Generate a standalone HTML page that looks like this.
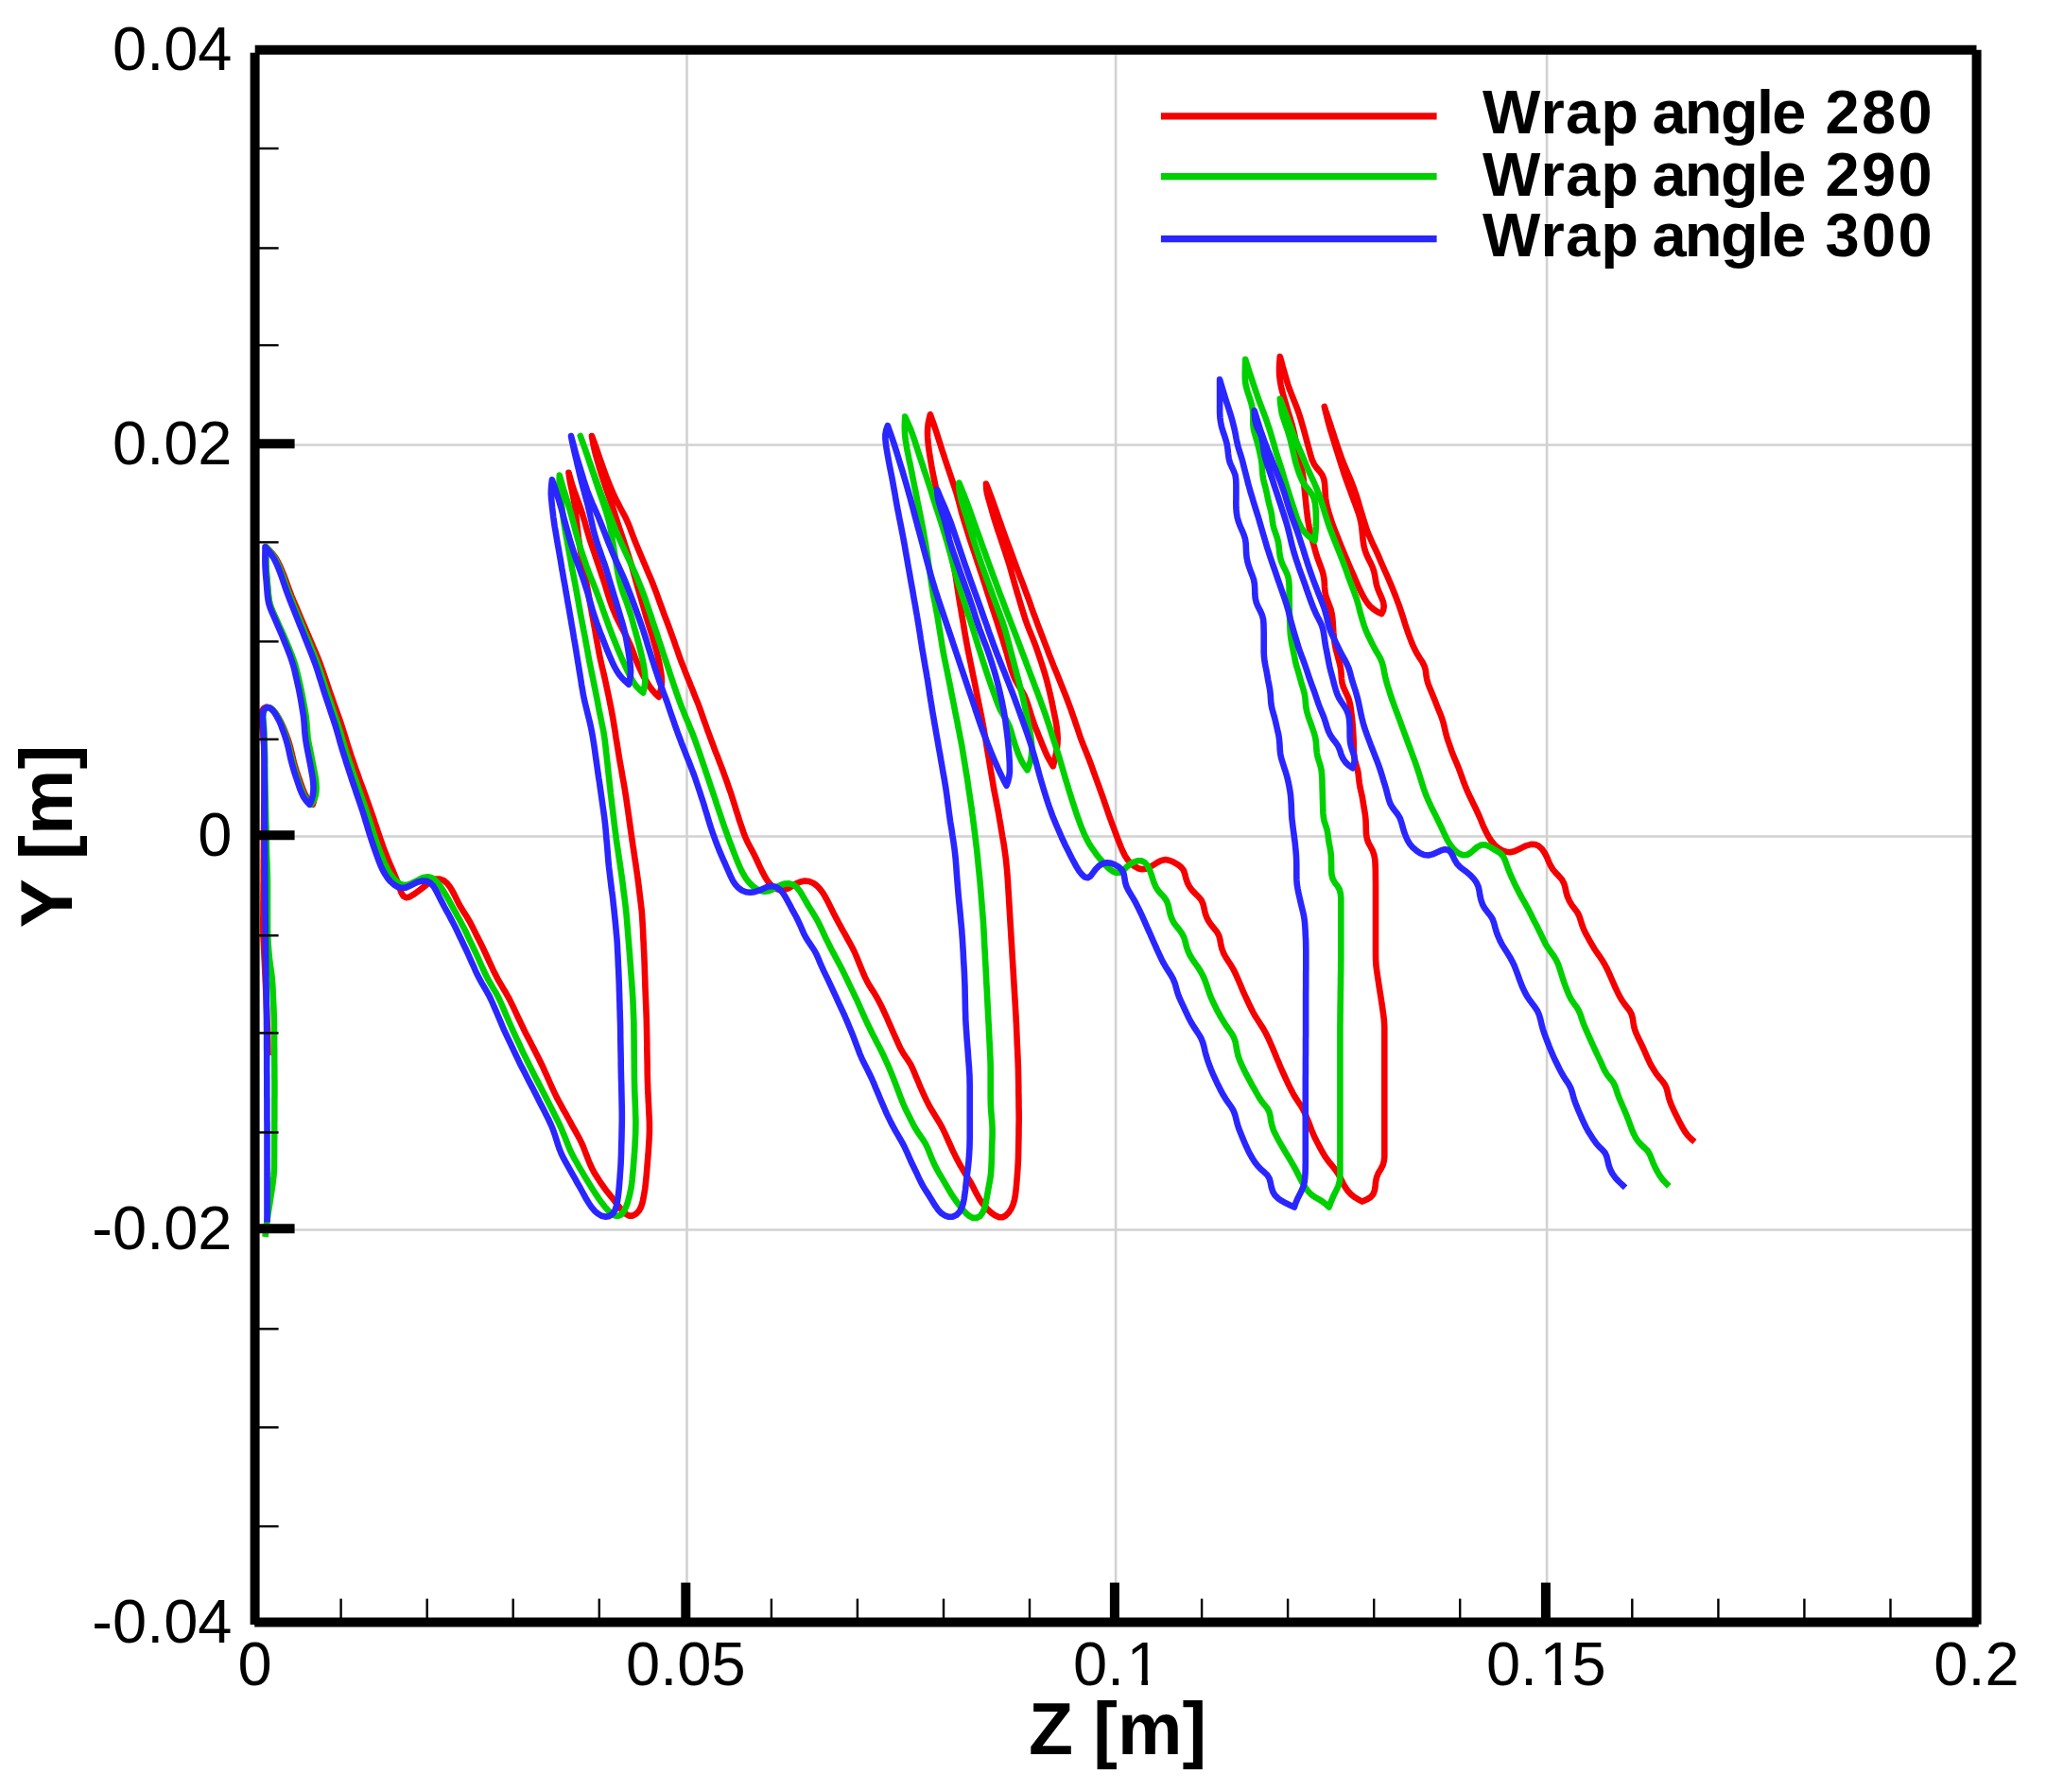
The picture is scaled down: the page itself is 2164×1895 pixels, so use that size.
<!DOCTYPE html>
<html><head><meta charset="utf-8"><title>Wrap angle plot</title>
<style>
html,body{margin:0;padding:0;background:#fff;}
body{width:2164px;height:1895px;overflow:hidden;}
svg{display:block;}
text{font-family:"Liberation Sans",Arial,sans-serif;fill:#000;}
.tl{font-size:65px;}
.ttl{font-size:78px;font-weight:bold;}
.lg{font-size:65px;font-weight:bold;}
</style></head><body>
<svg width="2164" height="1895" viewBox="0 0 2164 1895">
<rect width="2164" height="1895" fill="#fff"/>
<g stroke="#d2d2d2" stroke-width="2.6" fill="none"><line x1="726.5" y1="52.8" x2="726.5" y2="1715.6"/><line x1="1180.1" y1="52.8" x2="1180.1" y2="1715.6"/><line x1="1636.1" y1="52.8" x2="1636.1" y2="1715.6"/><line x1="269.6" y1="470.5" x2="2090.5" y2="470.5"/><line x1="269.6" y1="884.5" x2="2090.5" y2="884.5"/><line x1="269.6" y1="1300.5" x2="2090.5" y2="1300.5"/></g>
<polyline points="283.5,1116.0 283.4,1111.0 283.3,1106.0 283.2,1101.0 283.1,1096.0 283.0,1091.0 282.8,1086.0 282.6,1081.0 282.4,1076.0 282.2,1071.0 282.0,1066.0 281.8,1061.1 281.6,1056.1 281.4,1051.1 281.2,1046.1 281.0,1041.1 280.7,1036.1 280.5,1031.1 280.3,1026.1 280.0,1021.1 279.8,1016.1 279.5,1011.1 279.3,1006.1 279.0,1001.1 278.8,996.2 278.5,991.2 278.4,986.2 278.3,981.2 278.3,976.2 278.3,971.2 278.4,966.2 278.4,961.2 278.4,956.2 278.5,951.2 278.5,946.2 278.6,941.2 278.6,936.2 278.7,931.2 278.7,926.2 278.7,921.2 278.8,916.2 278.8,911.2 278.9,906.2 278.9,901.2 279.0,896.2 279.0,891.2 279.0,886.2 279.1,881.2 279.1,876.2 279.2,871.2 279.2,866.2 279.3,861.2 279.3,856.2 279.3,851.2 279.4,846.2 279.4,841.2 279.5,836.2 279.5,831.2 279.5,826.2 279.6,821.2 279.6,816.2 279.7,811.2 279.8,806.3 279.8,801.3 279.8,796.3 279.6,791.3 279.2,786.3 278.7,781.3 278.1,776.4 277.6,771.4 277.0,766.5 276.4,761.5 276.2,756.7 276.9,752.3 279.0,749.0 282.2,747.6 285.7,748.6 289.0,751.3 292.0,755.1 294.7,759.3 297.1,763.6 299.2,768.1 301.1,772.7 302.9,777.4 304.6,782.1 306.1,786.8 307.4,791.7 308.6,796.5 309.7,801.4 310.9,806.2 312.2,811.0 313.7,815.8 315.3,820.5 317.0,825.2 318.6,830.0 320.3,834.6 322.3,839.2 324.5,843.5 327.4,847.4 330.8,850.8 332.2,846.0 333.1,841.2 333.5,836.2 333.5,831.3 333.2,826.3 332.5,821.3 331.6,816.4 330.7,811.5 329.7,806.6 328.8,801.6 327.8,796.7 326.8,791.8 325.9,786.9 325.0,782.0 324.4,777.0 324.0,772.0 323.7,767.0 323.3,762.0 322.7,757.0 321.9,752.1 321.1,747.2 320.2,742.2 319.3,737.3 318.3,732.4 317.3,727.5 316.2,722.6 315.1,717.7 314.0,712.8 312.8,707.9 311.5,703.1 310.0,698.3 308.3,693.6 306.4,689.0 304.6,684.3 302.7,679.7 300.8,675.0 298.8,670.4 296.8,665.8 294.7,661.3 292.7,656.7 290.6,652.1 288.6,647.5 286.7,642.9 285.2,638.2 284.2,633.4 283.6,628.4 283.2,623.4 282.8,618.4 282.4,613.4 281.9,608.5 281.5,603.5 281.2,598.5 281.1,593.5 281.2,588.4 281.2,583.4 281.3,578.4 284.8,581.9 288.2,585.5 291.2,589.4 293.7,593.6 295.9,598.1 297.9,602.7 299.8,607.3 301.6,612.0 303.3,616.7 305.0,621.4 306.7,626.0 308.5,630.7 310.4,635.3 312.4,639.9 314.4,644.5 316.3,649.1 318.3,653.7 320.2,658.3 322.2,662.9 324.2,667.5 326.1,672.1 328.1,676.7 330.1,681.3 332.0,685.9 334.0,690.4 335.9,695.1 337.8,699.7 339.5,704.4 341.2,709.1 342.8,713.8 344.4,718.5 346.0,723.3 347.6,728.0 349.2,732.7 350.9,737.4 352.5,742.2 354.2,746.9 355.9,751.6 357.6,756.3 359.3,761.0 360.9,765.7 362.4,770.4 363.9,775.2 365.4,780.0 366.8,784.8 368.3,789.5 369.9,794.3 371.4,799.0 373.1,803.8 374.7,808.5 376.3,813.2 378.0,817.9 379.6,822.6 381.3,827.3 383.1,832.0 384.8,836.7 386.5,841.4 388.2,846.1 389.9,850.8 391.6,855.5 393.2,860.2 394.9,864.9 396.4,869.7 398.0,874.4 399.6,879.2 401.2,883.9 402.8,888.6 404.5,893.3 406.2,898.0 408.0,902.7 409.8,907.3 411.7,911.9 413.7,916.5 415.7,921.1 417.6,925.7 419.5,930.3 421.3,935.0 422.9,939.7 424.5,944.1 426.6,947.6 429.5,949.2 433.1,948.5 437.0,946.2 441.0,943.4 445.0,940.4 448.9,937.3 452.7,934.2 456.7,931.4 460.8,929.6 465.1,929.5 469.2,931.0 472.8,934.0 475.8,937.8 478.4,942.0 480.7,946.4 482.9,950.9 485.1,955.3 487.5,959.6 490.2,963.9 492.9,968.1 495.4,972.3 497.9,976.7 500.2,981.1 502.4,985.6 504.6,990.1 506.9,994.5 509.1,999.0 511.3,1003.5 513.4,1008.0 515.5,1012.5 517.6,1017.1 519.7,1021.6 521.8,1026.2 524.0,1030.6 526.3,1035.1 528.8,1039.4 531.3,1043.7 533.9,1047.9 536.4,1052.3 538.8,1056.6 541.0,1061.1 543.2,1065.6 545.3,1070.1 547.4,1074.7 549.6,1079.2 551.7,1083.7 553.9,1088.2 556.1,1092.7 558.4,1097.1 560.7,1101.6 563.0,1106.0 565.3,1110.4 567.5,1114.9 569.8,1119.3 572.0,1123.8 574.2,1128.3 576.2,1132.9 578.3,1137.4 580.3,1142.0 582.3,1146.5 584.4,1151.1 586.5,1155.6 588.7,1160.1 591.0,1164.5 593.4,1168.9 595.8,1173.3 598.3,1177.7 600.7,1182.0 603.1,1186.4 605.5,1190.8 608.0,1195.1 610.4,1199.5 612.8,1203.9 615.0,1208.4 617.0,1212.9 618.8,1217.6 620.6,1222.2 622.4,1226.9 624.3,1231.5 626.4,1236.0 628.7,1240.4 631.4,1244.6 634.1,1248.8 636.9,1252.9 639.8,1257.0 642.8,1260.9 646.0,1264.8 649.1,1268.7 652.1,1272.7 655.2,1276.6 658.3,1280.4 661.7,1283.7 665.3,1285.6 669.1,1285.6 672.7,1283.7 675.8,1280.5 678.0,1276.4 679.5,1271.8 680.5,1267.0 681.4,1262.1 682.2,1257.2 682.8,1252.2 683.3,1247.2 683.8,1242.3 684.2,1237.3 684.6,1232.3 685.0,1227.3 685.4,1222.3 685.8,1217.4 686.1,1212.4 686.4,1207.4 686.7,1202.4 686.9,1197.4 686.9,1192.4 686.9,1187.4 686.7,1182.4 686.4,1177.5 686.2,1172.5 686.0,1167.5 685.7,1162.5 685.5,1157.5 685.2,1152.5 685.1,1147.5 684.9,1142.5 684.8,1137.5 684.7,1132.5 684.7,1127.5 684.6,1122.5 684.5,1117.5 684.4,1112.5 684.3,1107.5 684.3,1102.6 684.2,1097.6 684.1,1092.6 684.0,1087.6 683.9,1082.6 683.8,1077.6 683.6,1072.6 683.4,1067.6 683.2,1062.6 683.0,1057.6 682.8,1052.6 682.6,1047.6 682.4,1042.6 682.3,1037.6 682.1,1032.6 681.9,1027.6 681.8,1022.7 681.6,1017.7 681.4,1012.7 681.2,1007.7 680.9,1002.7 680.7,997.7 680.4,992.7 680.2,987.7 680.0,982.7 679.7,977.7 679.4,972.7 679.1,967.8 678.7,962.8 678.1,957.8 677.5,952.9 676.9,947.9 676.3,943.0 675.7,938.0 675.1,933.0 674.4,928.1 673.7,923.1 673.0,918.2 672.3,913.3 671.5,908.3 670.8,903.4 670.1,898.4 669.3,893.5 668.6,888.5 667.9,883.6 667.2,878.7 666.5,873.7 665.8,868.8 665.1,863.8 664.4,858.9 663.7,853.9 663.0,849.0 662.3,844.0 661.5,839.1 660.7,834.1 659.9,829.2 659.0,824.3 658.1,819.4 657.3,814.5 656.4,809.6 655.5,804.6 654.7,799.7 653.9,794.8 653.1,789.8 652.3,784.9 651.5,780.0 650.8,775.0 650.0,770.1 649.2,765.2 648.4,760.2 647.5,755.3 646.6,750.4 645.6,745.5 644.6,740.6 643.6,735.7 642.6,730.8 641.5,725.9 640.5,721.1 639.4,716.2 638.3,711.3 637.1,706.5 636.0,701.6 634.9,696.7 633.9,691.8 633.0,686.9 632.1,682.0 631.2,677.1 630.3,672.2 629.5,667.2 628.6,662.3 627.7,657.4 626.8,652.5 625.9,647.6 625.0,642.7 624.1,637.8 623.2,632.8 622.4,627.9 621.5,623.0 620.6,618.1 619.7,613.2 618.8,608.2 617.9,603.3 617.0,598.4 616.1,593.5 615.1,588.6 614.2,583.7 613.4,578.8 612.6,573.8 611.9,568.9 611.3,563.9 610.7,559.0 610.2,554.0 609.6,549.0 609.1,544.1 608.5,539.1 607.8,534.2 607.0,529.2 606.1,524.3 605.1,519.4 604.0,514.6 603.0,509.7 602.2,504.8 601.5,499.8 602.9,504.7 604.2,509.6 605.7,514.4 607.3,519.1 609.1,523.9 610.8,528.6 612.6,533.4 614.2,538.1 615.8,542.9 617.2,547.8 618.7,552.6 620.0,557.5 621.4,562.3 622.8,567.2 624.3,572.0 625.9,576.8 627.5,581.5 629.2,586.3 630.8,591.1 632.4,595.9 634.0,600.7 635.6,605.5 637.2,610.2 638.8,615.0 640.3,619.8 641.8,624.7 643.3,629.5 644.8,634.3 646.5,639.1 648.2,643.8 650.2,648.5 652.2,653.1 654.4,657.6 656.7,662.1 659.1,666.6 661.4,671.0 663.6,675.5 665.8,680.1 667.8,684.7 669.6,689.4 671.3,694.2 673.1,698.9 675.1,703.5 677.2,708.1 679.4,712.6 681.8,717.1 684.3,721.5 686.9,725.7 689.9,729.8 693.2,733.5 696.8,736.9 698.2,732.1 699.3,727.2 699.9,722.3 699.8,717.3 699.3,712.3 698.5,707.3 697.6,702.4 696.5,697.5 695.4,692.6 694.2,687.7 692.8,682.8 691.4,678.0 690.0,673.2 688.5,668.3 687.0,663.5 685.5,658.7 684.0,653.9 682.6,649.1 681.2,644.2 679.8,639.4 678.4,634.6 677.0,629.7 675.6,624.9 674.2,620.0 672.8,615.2 671.5,610.3 670.1,605.5 668.7,600.6 667.3,595.8 665.8,591.0 664.3,586.2 662.7,581.4 661.1,576.6 659.6,571.8 658.0,567.0 656.4,562.2 654.8,557.5 653.2,552.7 651.7,547.9 650.1,543.1 648.6,538.3 647.0,533.5 645.3,528.7 643.7,524.0 642.0,519.2 640.4,514.4 638.8,509.7 637.3,504.9 635.7,500.1 634.2,495.3 632.8,490.4 631.4,485.6 630.0,480.7 628.8,475.9 627.7,470.9 626.8,466.0 626.0,461.0 627.7,465.7 629.4,470.4 631.1,475.1 632.7,479.8 634.3,484.6 636.0,489.3 637.6,494.0 639.3,498.7 641.0,503.4 642.8,508.0 644.7,512.7 646.6,517.3 648.6,521.9 650.7,526.4 652.9,530.9 655.2,535.3 657.5,539.7 659.9,544.1 662.2,548.6 664.2,553.1 666.1,557.7 667.8,562.4 669.6,567.1 671.4,571.7 673.3,576.4 675.2,581.0 677.1,585.6 679.1,590.2 681.0,594.8 683.0,599.4 684.9,604.0 686.9,608.6 688.9,613.2 690.7,617.8 692.5,622.5 694.3,627.1 696.0,631.8 697.6,636.5 699.4,641.2 701.1,645.9 702.8,650.6 704.6,655.3 706.4,660.0 708.1,664.6 709.8,669.3 711.5,674.0 713.2,678.7 714.8,683.5 716.5,688.2 718.1,692.9 719.8,697.6 721.6,702.3 723.4,706.9 725.2,711.6 727.1,716.2 729.0,720.8 730.8,725.5 732.7,730.1 734.5,734.8 736.4,739.4 738.3,744.0 740.0,748.7 741.7,753.4 743.3,758.1 745.0,762.8 746.7,767.5 748.3,772.2 750.1,776.9 751.8,781.6 753.6,786.3 755.3,791.0 757.1,795.6 759.0,800.3 760.7,804.9 762.5,809.6 764.3,814.3 766.0,819.0 767.7,823.7 769.4,828.4 771.0,833.1 772.7,837.8 774.2,842.6 775.7,847.3 777.2,852.1 778.7,856.9 780.2,861.6 781.7,866.4 783.3,871.2 784.9,875.9 786.5,880.6 788.3,885.2 790.3,889.8 792.6,894.2 795.0,898.6 797.3,903.0 799.5,907.5 801.6,912.0 803.7,916.6 805.9,921.1 808.2,925.5 810.7,929.8 813.5,933.8 816.8,937.3 820.7,939.8 824.9,941.0 829.4,940.8 833.8,939.3 838.0,936.9 842.2,934.4 846.6,932.5 851.1,931.6 855.7,932.0 860.0,933.7 863.9,936.5 867.2,940.0 870.2,943.9 872.7,948.2 875.1,952.6 877.3,957.0 879.6,961.5 881.8,966.0 884.1,970.4 886.4,974.8 888.8,979.2 891.2,983.6 893.7,987.9 896.1,992.3 898.5,996.7 900.9,1001.0 903.2,1005.5 905.2,1010.0 907.1,1014.6 909.0,1019.3 910.9,1023.9 912.8,1028.5 914.8,1033.1 917.0,1037.6 919.4,1041.9 922.1,1046.1 924.8,1050.3 927.3,1054.6 929.7,1058.9 932.0,1063.4 934.1,1067.9 936.2,1072.4 938.3,1077.0 940.3,1081.6 942.3,1086.1 944.3,1090.7 946.3,1095.3 948.4,1099.9 950.4,1104.4 952.5,1108.9 955.0,1113.2 957.7,1117.4 960.5,1121.4 963.1,1125.6 965.3,1130.0 967.2,1134.6 969.1,1139.2 971.1,1143.8 973.0,1148.4 975.0,1153.0 977.1,1157.6 979.2,1162.1 981.4,1166.6 983.7,1171.0 986.3,1175.3 988.9,1179.5 991.5,1183.8 994.1,1188.0 996.5,1192.4 998.7,1196.9 1000.8,1201.4 1002.8,1206.0 1004.9,1210.5 1006.9,1215.1 1009.1,1219.6 1011.3,1224.1 1013.6,1228.5 1016.0,1232.9 1018.5,1237.2 1021.1,1241.5 1023.8,1245.7 1026.4,1249.9 1028.8,1254.3 1031.0,1258.7 1033.3,1263.2 1035.7,1267.5 1038.4,1271.7 1041.5,1275.6 1044.9,1279.2 1048.5,1282.5 1052.4,1285.3 1056.4,1287.1 1060.3,1287.2 1064.0,1285.3 1067.1,1282.0 1069.7,1278.0 1071.6,1273.5 1073.0,1268.7 1073.9,1263.9 1074.5,1258.9 1075.0,1254.0 1075.4,1249.0 1075.8,1244.0 1076.2,1239.0 1076.5,1234.0 1076.8,1229.0 1077.0,1224.0 1077.1,1219.1 1077.2,1214.1 1077.3,1209.1 1077.4,1204.1 1077.5,1199.1 1077.5,1194.1 1077.6,1189.1 1077.7,1184.1 1077.7,1179.1 1077.6,1174.1 1077.5,1169.1 1077.5,1164.1 1077.4,1159.1 1077.3,1154.1 1077.3,1149.1 1077.2,1144.1 1077.1,1139.1 1077.0,1134.1 1076.9,1129.1 1076.7,1124.1 1076.5,1119.1 1076.3,1114.2 1076.1,1109.2 1075.8,1104.2 1075.6,1099.2 1075.4,1094.2 1075.2,1089.2 1075.0,1084.2 1074.7,1079.2 1074.5,1074.2 1074.2,1069.2 1073.9,1064.2 1073.6,1059.3 1073.3,1054.3 1073.0,1049.3 1072.7,1044.3 1072.4,1039.3 1072.1,1034.3 1071.8,1029.3 1071.5,1024.3 1071.2,1019.4 1070.9,1014.4 1070.6,1009.4 1070.3,1004.4 1070.0,999.4 1069.7,994.4 1069.4,989.4 1069.1,984.4 1068.8,979.5 1068.5,974.5 1068.2,969.5 1067.9,964.5 1067.6,959.5 1067.3,954.5 1067.0,949.5 1066.7,944.5 1066.4,939.6 1066.1,934.6 1065.8,929.6 1065.4,924.6 1065.0,919.6 1064.5,914.6 1064.0,909.7 1063.4,904.7 1062.7,899.8 1062.0,894.8 1061.2,889.9 1060.3,885.0 1059.5,880.0 1058.7,875.1 1057.9,870.2 1057.0,865.3 1056.2,860.3 1055.3,855.4 1054.3,850.5 1053.4,845.6 1052.4,840.7 1051.5,835.8 1050.6,830.9 1049.8,826.0 1049.0,821.0 1048.1,816.1 1047.3,811.2 1046.5,806.3 1045.7,801.3 1044.8,796.4 1044.0,791.5 1043.2,786.5 1042.4,781.6 1041.5,776.7 1040.7,771.8 1039.8,766.8 1038.8,761.9 1037.9,757.0 1036.9,752.1 1035.9,747.2 1034.9,742.3 1033.9,737.4 1032.9,732.5 1032.0,727.6 1031.0,722.7 1030.0,717.9 1029.0,713.0 1028.0,708.1 1027.0,703.2 1026.0,698.3 1025.0,693.4 1024.0,688.5 1023.1,683.6 1022.1,678.7 1021.3,673.7 1020.4,668.8 1019.6,663.9 1018.8,659.0 1017.9,654.0 1017.1,649.1 1016.3,644.2 1015.4,639.2 1014.6,634.3 1013.8,629.4 1013.1,624.5 1012.3,619.5 1011.6,614.6 1010.8,609.6 1010.0,604.7 1009.1,599.8 1008.2,594.9 1007.2,590.0 1006.2,585.1 1005.1,580.2 1003.9,575.4 1002.7,570.5 1001.4,565.7 1000.0,560.9 998.7,556.1 997.5,551.2 996.4,546.4 995.4,541.5 994.3,536.6 993.3,531.7 992.2,526.8 991.2,521.9 990.1,517.0 989.1,512.2 988.1,507.3 987.1,502.4 986.1,497.5 985.2,492.6 984.4,487.6 983.6,482.7 982.8,477.8 982.1,472.8 981.6,467.9 981.2,462.9 981.0,457.9 981.2,453.0 981.7,448.0 982.7,443.2 983.9,438.3 985.6,443.0 987.3,447.7 988.9,452.5 990.5,457.2 992.0,462.0 993.5,466.8 995.0,471.5 996.5,476.3 998.1,481.0 999.6,485.8 1001.2,490.5 1002.8,495.3 1004.4,500.0 1006.0,504.8 1007.6,509.5 1009.2,514.2 1010.8,519.0 1012.3,523.8 1013.6,528.6 1014.9,533.4 1016.1,538.2 1017.4,543.1 1018.8,547.9 1020.3,552.7 1021.8,557.4 1023.3,562.2 1024.8,567.0 1026.3,571.7 1027.9,576.5 1029.5,581.2 1031.1,586.0 1032.7,590.7 1034.2,595.5 1035.8,600.2 1037.4,605.0 1039.0,609.7 1040.5,614.5 1042.1,619.2 1043.6,624.0 1045.1,628.7 1046.7,633.5 1048.2,638.3 1049.7,643.0 1051.3,647.8 1052.8,652.5 1054.4,657.3 1055.9,662.1 1057.4,666.8 1059.0,671.6 1060.5,676.3 1061.9,681.1 1063.4,685.9 1064.8,690.7 1066.1,695.5 1067.5,700.4 1068.8,705.2 1070.3,709.9 1072.0,714.6 1074.0,719.2 1076.4,723.5 1079.0,727.8 1081.6,732.0 1083.9,736.4 1085.8,741.0 1087.4,745.7 1088.9,750.4 1090.3,755.2 1091.9,760.0 1093.5,764.7 1095.2,769.4 1097.1,774.1 1098.9,778.7 1100.8,783.3 1102.7,788.0 1104.6,792.6 1106.6,797.2 1108.8,801.7 1111.2,806.0 1113.8,810.3 1115.0,805.4 1116.2,800.6 1117.2,795.6 1118.0,790.7 1118.5,785.7 1118.7,780.8 1118.4,775.8 1117.9,770.8 1117.2,765.8 1116.3,760.9 1115.3,756.0 1114.3,751.1 1113.3,746.1 1112.3,741.2 1111.2,736.3 1110.1,731.4 1108.9,726.5 1107.7,721.7 1106.4,716.8 1105.0,712.0 1103.5,707.2 1102.0,702.4 1100.4,697.7 1098.8,692.9 1097.2,688.2 1095.5,683.4 1093.7,678.7 1091.9,674.1 1090.0,669.4 1088.1,664.8 1086.3,660.1 1084.6,655.4 1083.1,650.6 1081.6,645.8 1080.1,641.0 1078.7,636.2 1077.3,631.4 1075.8,626.6 1074.4,621.7 1073.0,616.9 1071.7,612.1 1070.3,607.2 1069.0,602.4 1067.6,597.6 1066.1,592.8 1064.5,588.0 1063.0,583.3 1061.4,578.5 1059.8,573.7 1058.2,569.0 1056.6,564.2 1055.0,559.4 1053.5,554.7 1052.0,549.9 1050.5,545.1 1049.1,540.2 1047.8,535.4 1046.4,530.6 1045.0,525.8 1043.8,521.0 1043.2,516.3 1043.0,511.6 1044.8,516.3 1046.6,521.0 1048.4,525.6 1050.1,530.3 1051.8,535.0 1053.5,539.8 1055.1,544.5 1056.7,549.2 1058.4,553.9 1060.0,558.7 1061.7,563.4 1063.4,568.1 1065.1,572.8 1066.9,577.4 1068.7,582.1 1070.4,586.8 1072.1,591.5 1073.8,596.2 1075.5,600.9 1077.3,605.6 1079.0,610.3 1080.9,614.9 1082.7,619.6 1084.4,624.3 1086.2,629.0 1087.9,633.7 1089.6,638.4 1091.2,643.1 1092.9,647.8 1094.7,652.5 1096.4,657.2 1098.1,661.9 1099.9,666.5 1101.7,671.2 1103.5,675.9 1105.3,680.6 1107.1,685.2 1108.8,689.9 1110.6,694.6 1112.5,699.2 1114.3,703.9 1116.2,708.5 1118.1,713.1 1120.0,717.8 1121.9,722.4 1123.7,727.0 1125.6,731.7 1127.4,736.3 1129.2,741.0 1130.9,745.7 1132.7,750.4 1134.3,755.1 1136.0,759.8 1137.6,764.6 1139.2,769.3 1140.8,774.0 1142.4,778.8 1144.1,783.5 1145.9,788.1 1147.8,792.8 1149.7,797.4 1151.5,802.0 1153.3,806.7 1155.0,811.4 1156.7,816.1 1158.4,820.8 1160.1,825.5 1161.8,830.2 1163.5,834.9 1165.2,839.6 1166.9,844.4 1168.5,849.1 1170.1,853.8 1171.7,858.5 1173.4,863.3 1175.1,868.0 1176.8,872.7 1178.6,877.4 1180.3,882.0 1182.1,886.7 1183.9,891.4 1185.7,896.0 1187.7,900.6 1189.9,905.0 1192.6,909.1 1195.9,912.8 1199.6,915.9 1203.7,918.2 1207.8,919.3 1212.0,918.8 1216.1,917.0 1220.2,914.5 1224.2,912.0 1228.4,909.9 1232.8,909.1 1237.2,909.9 1241.5,911.8 1245.6,914.1 1249.1,916.8 1251.7,920.0 1253.2,924.1 1254.3,928.7 1255.9,933.4 1258.1,937.7 1261.0,941.6 1264.4,945.1 1267.9,948.5 1270.7,952.0 1272.5,956.1 1273.6,960.7 1274.6,965.4 1276.2,970.0 1278.5,974.4 1281.3,978.4 1284.4,982.1 1287.3,985.7 1289.4,989.7 1290.5,994.1 1291.3,998.9 1292.5,1003.6 1294.2,1008.2 1296.6,1012.5 1299.3,1016.7 1302.0,1020.8 1304.5,1025.1 1306.7,1029.5 1308.8,1034.1 1310.8,1038.7 1312.7,1043.3 1314.6,1047.9 1316.7,1052.5 1318.8,1057.0 1320.9,1061.5 1323.1,1066.0 1325.4,1070.5 1327.8,1074.8 1330.5,1079.0 1333.2,1083.2 1335.9,1087.4 1338.4,1091.8 1340.6,1096.2 1342.7,1100.7 1344.7,1105.3 1346.7,1109.9 1348.6,1114.5 1350.5,1119.2 1352.5,1123.8 1354.4,1128.4 1356.4,1133.0 1358.5,1137.5 1360.6,1142.1 1362.7,1146.6 1364.9,1151.1 1367.2,1155.5 1369.6,1159.8 1372.3,1164.0 1375.1,1168.1 1377.7,1172.2 1379.9,1176.6 1381.8,1181.2 1383.7,1185.8 1385.5,1190.5 1387.3,1195.2 1389.2,1199.8 1391.3,1204.3 1393.6,1208.7 1395.9,1213.1 1398.3,1217.5 1400.8,1221.8 1403.6,1226.0 1406.6,1229.9 1409.8,1233.7 1412.9,1237.6 1415.6,1241.7 1417.9,1246.1 1420.1,1250.5 1422.5,1254.9 1425.2,1259.0 1428.5,1262.6 1432.3,1265.7 1436.5,1268.3 1440.9,1270.6 1445.4,1268.6 1449.4,1266.2 1452.3,1263.0 1453.9,1258.9 1454.6,1254.2 1455.1,1249.4 1456.1,1244.7 1458.0,1240.3 1460.5,1236.3 1462.6,1232.1 1463.8,1227.6 1464.3,1222.8 1464.3,1217.8 1464.3,1212.8 1464.3,1207.8 1464.3,1202.8 1464.3,1197.8 1464.3,1192.8 1464.3,1187.9 1464.3,1182.9 1464.3,1177.9 1464.3,1172.9 1464.3,1167.9 1464.3,1162.9 1464.3,1157.9 1464.3,1152.9 1464.3,1147.9 1464.3,1142.9 1464.3,1137.9 1464.3,1132.9 1464.3,1127.9 1464.3,1123.0 1464.3,1118.0 1464.3,1113.0 1464.3,1108.0 1464.3,1103.0 1464.3,1098.0 1464.3,1093.0 1464.3,1088.0 1464.1,1083.0 1463.8,1078.1 1463.2,1073.1 1462.5,1068.2 1461.8,1063.2 1461.0,1058.3 1460.3,1053.4 1459.5,1048.4 1458.7,1043.5 1458.0,1038.6 1457.2,1033.6 1456.5,1028.7 1455.8,1023.8 1455.3,1018.8 1455.1,1013.8 1455.0,1008.8 1455.0,1003.8 1455.0,998.9 1455.0,993.9 1455.0,988.9 1455.0,983.9 1455.0,978.9 1455.0,973.9 1455.0,968.9 1455.0,963.9 1455.0,958.9 1455.0,953.9 1455.0,948.9 1455.0,943.9 1455.0,938.9 1455.0,934.0 1454.9,929.0 1454.9,924.0 1454.8,919.0 1454.6,914.0 1454.3,909.1 1453.4,904.3 1451.9,899.8 1449.7,895.5 1447.4,891.3 1445.8,886.8 1445.0,882.1 1444.8,877.1 1444.7,872.2 1444.5,867.2 1444.0,862.3 1443.2,857.4 1442.4,852.5 1441.6,847.6 1440.8,842.8 1439.7,837.9 1438.6,833.1 1437.8,828.2 1437.2,823.3 1436.7,818.4 1435.8,813.6 1434.4,808.9 1433.1,804.2 1432.2,799.4 1431.9,794.5 1431.8,789.6 1431.7,784.6 1431.5,779.6 1431.2,774.6 1430.9,769.6 1430.5,764.7 1430.0,759.7 1429.4,754.7 1428.8,749.8 1428.0,744.9 1426.8,740.1 1425.0,735.6 1422.9,731.1 1420.9,726.7 1419.5,722.1 1418.9,717.3 1418.6,712.3 1418.1,707.4 1417.2,702.6 1415.9,697.8 1414.6,693.0 1413.3,688.2 1412.2,683.3 1411.4,678.4 1410.8,673.5 1410.3,668.5 1410.0,663.5 1409.7,658.5 1409.3,653.6 1408.6,648.7 1407.4,643.9 1405.7,639.3 1403.9,634.7 1402.3,630.1 1401.4,625.4 1401.0,620.5 1400.8,615.5 1400.2,610.6 1399.2,605.8 1397.6,601.1 1395.9,596.5 1394.1,591.8 1392.5,587.1 1391.1,582.3 1389.8,577.5 1388.4,572.7 1387.1,567.9 1385.9,563.0 1384.8,558.2 1383.9,553.3 1383.1,548.3 1382.5,543.4 1381.9,538.4 1381.4,533.5 1380.9,528.5 1380.4,523.5 1379.9,518.6 1379.4,513.6 1378.9,508.6 1378.2,503.7 1377.3,498.8 1376.3,493.9 1375.3,489.0 1374.2,484.1 1373.2,479.3 1372.1,474.4 1371.1,469.5 1370.1,464.6 1369.2,459.7 1368.0,454.8 1366.8,450.0 1365.4,445.2 1364.0,440.4 1362.5,435.7 1361.1,430.9 1359.7,426.1 1358.2,421.3 1356.9,416.5 1355.6,411.7 1354.6,406.8 1353.8,401.9 1353.2,397.0 1353.0,392.0 1353.1,387.1 1353.4,382.1 1353.8,377.1 1355.2,381.9 1356.5,386.8 1357.9,391.6 1359.2,396.4 1360.6,401.2 1362.0,406.0 1363.6,410.7 1365.4,415.4 1367.2,420.0 1369.1,424.7 1370.9,429.3 1372.7,434.0 1374.3,438.7 1375.8,443.5 1377.2,448.3 1378.6,453.1 1379.9,457.9 1381.2,462.7 1382.5,467.6 1383.8,472.4 1385.1,477.2 1386.4,482.0 1387.9,486.7 1390.0,491.1 1392.8,495.0 1395.9,498.6 1398.6,502.4 1400.3,506.7 1401.1,511.4 1401.4,516.4 1401.7,521.4 1402.1,526.3 1402.7,531.3 1403.8,536.1 1405.1,540.9 1406.6,545.7 1408.1,550.4 1409.7,555.2 1411.5,559.9 1413.3,564.5 1415.2,569.2 1417.0,573.8 1418.9,578.4 1420.8,583.1 1422.7,587.7 1424.7,592.3 1426.6,596.9 1428.6,601.5 1430.6,606.1 1432.6,610.6 1434.6,615.2 1436.6,619.8 1438.7,624.3 1440.9,628.8 1443.3,633.2 1446.0,637.3 1449.2,641.1 1452.8,644.3 1456.9,647.0 1461.2,649.1 1463.1,645.2 1463.7,641.1 1463.0,636.6 1461.3,632.1 1459.3,627.7 1457.4,623.1 1455.9,618.5 1455.0,613.7 1454.2,608.9 1453.2,604.1 1451.6,599.5 1449.6,595.1 1447.3,590.7 1445.3,586.3 1443.6,581.7 1442.5,576.9 1441.7,572.0 1441.2,567.1 1440.7,562.2 1440.2,557.3 1439.4,552.4 1438.3,547.6 1436.9,542.9 1435.3,538.3 1433.6,533.6 1431.8,529.0 1430.1,524.3 1428.4,519.7 1426.7,515.1 1425.0,510.4 1423.3,505.8 1421.7,501.1 1420.2,496.4 1418.7,491.7 1417.2,486.9 1415.7,482.2 1414.2,477.5 1412.7,472.8 1411.3,468.1 1409.8,463.3 1408.4,458.6 1406.9,453.9 1405.6,449.1 1404.3,444.3 1403.1,439.5 1401.9,434.7 1400.8,429.9 1402.3,434.7 1403.9,439.4 1405.5,444.2 1407.1,448.9 1408.6,453.7 1410.2,458.4 1411.7,463.2 1413.3,467.9 1414.8,472.7 1416.5,477.4 1418.1,482.1 1419.8,486.8 1421.7,491.5 1423.6,496.1 1425.6,500.7 1427.6,505.3 1429.5,509.9 1431.3,514.6 1433.0,519.3 1434.6,524.0 1436.1,528.8 1437.5,533.6 1438.9,538.4 1440.4,543.2 1441.8,547.9 1443.3,552.7 1444.8,557.5 1446.4,562.2 1448.3,566.9 1450.3,571.4 1452.4,576.0 1454.6,580.5 1456.7,585.0 1458.7,589.6 1460.6,594.2 1462.6,598.8 1464.6,603.4 1466.7,607.9 1468.7,612.5 1470.7,617.1 1472.6,621.7 1474.5,626.4 1476.3,631.0 1478.0,635.7 1479.8,640.4 1481.4,645.1 1483.0,649.9 1484.5,654.6 1486.0,659.4 1487.6,664.2 1489.2,668.9 1490.9,673.6 1492.7,678.2 1494.6,682.9 1496.7,687.4 1499.1,691.8 1501.7,696.0 1504.4,700.0 1506.5,704.2 1507.8,708.7 1508.4,713.5 1509.2,718.4 1510.5,723.1 1512.3,727.7 1514.2,732.3 1516.1,737.0 1518.0,741.6 1519.8,746.3 1521.7,750.9 1523.6,755.5 1525.3,760.2 1526.8,764.9 1527.9,769.7 1529.0,774.6 1530.3,779.4 1531.8,784.1 1533.5,788.8 1535.1,793.6 1536.9,798.2 1538.8,802.9 1540.8,807.4 1542.7,812.0 1544.4,816.7 1546.1,821.4 1547.8,826.1 1549.6,830.8 1551.5,835.4 1553.5,840.0 1555.7,844.5 1557.9,849.0 1560.1,853.5 1562.2,858.0 1564.3,862.5 1566.2,867.1 1568.1,871.8 1570.1,876.3 1572.3,880.8 1574.7,885.2 1577.4,889.4 1580.5,893.2 1584.1,896.4 1588.2,899.0 1592.6,900.7 1597.2,901.2 1601.6,900.3 1606.0,898.3 1610.4,896.1 1614.9,894.1 1619.5,892.9 1623.8,893.0 1627.7,894.8 1631.0,897.9 1633.7,901.9 1636.0,906.3 1637.9,910.8 1640.0,915.3 1642.5,919.5 1645.6,923.2 1649.0,926.6 1652.1,930.2 1654.2,934.2 1655.5,938.7 1656.5,943.5 1657.9,948.2 1659.9,952.7 1662.4,956.9 1665.3,960.7 1668.1,964.4 1670.2,968.4 1671.7,972.9 1673.1,977.5 1674.8,982.1 1676.9,986.6 1679.3,991.0 1681.7,995.4 1684.2,999.7 1686.8,1004.0 1689.6,1008.1 1692.5,1012.2 1695.2,1016.3 1697.7,1020.7 1700.0,1025.1 1702.1,1029.6 1704.1,1034.2 1706.1,1038.8 1708.1,1043.3 1710.2,1047.9 1712.4,1052.4 1714.8,1056.7 1717.5,1060.8 1720.5,1064.7 1723.5,1068.5 1725.7,1072.6 1726.9,1077.1 1727.6,1082.0 1728.5,1086.8 1730.0,1091.4 1732.0,1096.0 1734.2,1100.5 1736.4,1105.0 1738.5,1109.5 1740.5,1114.1 1742.5,1118.6 1744.6,1123.2 1746.9,1127.6 1749.5,1131.8 1752.2,1136.0 1755.3,1139.8 1758.4,1143.5 1761.1,1147.2 1762.9,1151.5 1764.0,1156.1 1765.1,1160.9 1766.6,1165.6 1768.5,1170.2 1770.6,1174.8 1772.8,1179.3 1775.0,1183.7 1777.3,1188.2 1779.7,1192.6 1782.2,1196.8 1785.2,1200.8 1788.6,1204.3 1792.4,1207.5" fill="none" stroke="#f40000" stroke-width="6.6" stroke-linejoin="round" stroke-linecap="butt"/>
<polyline points="280.5,1308.0 281.1,1303.0 281.6,1298.1 282.2,1293.1 282.9,1288.1 283.6,1283.2 284.4,1278.2 285.2,1273.3 286.0,1268.3 286.7,1263.4 287.5,1258.5 288.2,1253.5 288.8,1248.5 289.4,1243.6 289.8,1238.6 290.0,1233.6 290.0,1228.6 290.1,1223.6 290.1,1218.6 290.1,1213.6 290.1,1208.6 290.2,1203.6 290.2,1198.6 290.2,1193.6 290.2,1188.6 290.3,1183.6 290.3,1178.6 290.3,1173.5 290.3,1168.5 290.3,1163.5 290.4,1158.5 290.4,1153.5 290.4,1148.5 290.4,1143.5 290.3,1138.5 290.3,1133.5 290.3,1128.5 290.2,1123.5 290.2,1118.5 290.2,1113.5 290.2,1108.5 290.1,1103.5 290.1,1098.5 290.1,1093.5 290.0,1088.5 290.0,1083.5 289.9,1078.5 289.7,1073.5 289.5,1068.5 289.3,1063.5 289.0,1058.5 288.8,1053.5 288.6,1048.5 288.4,1043.5 288.0,1038.5 287.6,1033.5 287.0,1028.5 286.3,1023.6 285.6,1018.6 285.0,1013.7 284.5,1008.7 284.1,1003.7 283.7,998.7 283.4,993.7 283.2,988.7 283.0,983.7 283.0,978.7 283.0,973.7 283.0,968.7 283.0,963.7 283.0,958.7 283.0,953.7 283.0,948.7 283.0,943.7 283.0,938.7 283.0,933.7 282.9,928.7 282.8,923.7 282.6,918.7 282.5,913.7 282.3,908.7 282.1,903.7 282.0,898.7 281.9,893.7 281.8,888.7 281.7,883.7 281.6,878.6 281.5,873.6 281.3,868.6 281.2,863.6 281.1,858.6 281.0,853.6 280.9,848.6 280.8,843.6 280.7,838.6 280.6,833.6 280.5,828.6 280.4,823.6 280.3,818.6 280.3,813.6 280.2,808.6 280.2,803.6 280.1,798.6 280.0,793.6 279.8,788.6 279.7,783.6 279.5,778.6 279.4,773.6 279.1,768.6 278.7,763.6 278.3,758.8 278.5,754.2 279.8,750.3 282.3,748.2 285.5,748.3 288.7,750.7 291.6,754.3 294.2,758.6 296.5,763.0 298.4,767.6 300.2,772.2 301.9,776.9 303.4,781.7 304.8,786.5 306.1,791.3 307.2,796.2 308.3,801.1 309.5,805.9 310.8,810.8 312.2,815.5 313.8,820.3 315.4,825.0 317.0,829.8 318.7,834.5 320.6,839.1 322.8,843.4 325.7,847.3 329.0,850.8 331.5,846.7 333.4,842.5 334.4,837.8 334.6,833.0 334.4,828.1 333.8,823.2 333.0,818.3 332.0,813.4 331.1,808.6 330.1,803.7 329.2,798.8 328.2,794.0 327.2,789.1 326.3,784.3 325.6,779.4 325.1,774.5 324.7,769.5 324.4,764.6 323.9,759.7 323.2,754.8 322.4,749.9 321.5,745.0 320.6,740.1 319.7,735.2 318.7,730.4 317.7,725.5 316.6,720.7 315.5,715.9 314.3,711.1 313.1,706.3 311.7,701.5 310.1,696.8 308.4,692.2 306.5,687.6 304.7,683.0 302.8,678.4 300.8,673.9 298.8,669.3 296.8,664.8 294.7,660.3 292.7,655.8 290.6,651.3 288.6,646.8 286.7,642.2 285.3,637.6 284.4,632.8 283.9,627.9 283.4,622.9 283.0,618.0 282.6,613.0 282.2,608.1 281.8,603.2 281.5,598.2 281.4,593.3 281.4,588.3 281.5,583.4 281.5,578.4 284.8,582.2 287.9,586.1 290.6,590.2 293.0,594.6 295.0,599.1 296.9,603.7 298.8,608.4 300.5,613.1 302.1,617.8 303.8,622.6 305.5,627.3 307.3,631.9 309.2,636.6 311.1,641.2 313.0,645.8 314.9,650.5 316.8,655.1 318.7,659.7 320.6,664.3 322.5,669.0 324.5,673.6 326.4,678.2 328.3,682.8 330.2,687.5 332.1,692.1 334.0,696.7 335.8,701.4 337.4,706.1 339.0,710.9 340.6,715.6 342.1,720.4 343.7,725.2 345.2,729.9 346.8,734.7 348.4,739.4 350.0,744.2 351.6,748.9 353.2,753.6 354.8,758.4 356.4,763.1 358.0,767.9 359.4,772.7 360.9,777.5 362.2,782.3 363.7,787.1 365.1,791.9 366.6,796.7 368.2,801.4 369.8,806.2 371.4,810.9 373.0,815.7 374.6,820.4 376.2,825.1 377.9,829.8 379.5,834.6 381.2,839.3 382.9,844.0 384.5,848.7 386.2,853.5 387.8,858.2 389.3,863.0 390.9,867.7 392.4,872.5 393.9,877.3 395.4,882.0 397.0,886.8 398.6,891.5 400.3,896.2 402.0,900.9 403.8,905.6 405.7,910.3 407.7,914.8 409.9,919.3 412.4,923.6 415.3,927.7 418.6,931.3 422.3,934.2 426.3,935.8 430.5,935.8 434.9,934.3 439.3,932.1 443.7,929.8 448.1,927.9 452.5,927.2 456.6,928.2 460.2,930.7 463.4,934.3 466.4,938.3 469.1,942.4 471.7,946.7 474.2,951.0 476.6,955.4 479.0,959.8 481.4,964.2 483.8,968.6 486.3,972.9 488.6,977.4 490.9,981.8 493.1,986.3 495.2,990.8 497.4,995.4 499.6,999.9 501.7,1004.4 503.8,1008.9 505.9,1013.5 507.9,1018.1 510.0,1022.6 512.0,1027.2 514.2,1031.7 516.5,1036.1 519.0,1040.5 521.5,1044.8 524.1,1049.1 526.5,1053.5 528.7,1058.0 530.7,1062.5 532.7,1067.1 534.6,1071.7 536.6,1076.3 538.6,1081.0 540.6,1085.5 542.6,1090.1 544.7,1094.7 546.8,1099.2 549.0,1103.7 551.1,1108.3 553.2,1112.8 555.4,1117.3 557.6,1121.8 559.8,1126.3 562.1,1130.8 564.3,1135.2 566.6,1139.7 568.9,1144.1 571.2,1148.6 573.5,1153.0 575.8,1157.5 578.1,1161.9 580.4,1166.4 582.6,1170.8 584.9,1175.3 587.1,1179.8 589.4,1184.3 591.6,1188.8 593.7,1193.3 595.6,1197.9 597.5,1202.6 599.3,1207.2 601.2,1211.9 603.1,1216.5 605.3,1221.0 607.6,1225.4 610.1,1229.7 612.6,1234.1 615.1,1238.4 617.6,1242.7 620.2,1247.0 622.9,1251.3 625.5,1255.5 628.2,1259.7 630.9,1263.9 633.7,1268.1 636.6,1272.1 639.7,1276.1 643.0,1279.8 646.5,1283.2 650.2,1285.5 653.9,1285.9 657.2,1284.2 659.9,1280.7 662.1,1276.4 663.8,1271.7 665.1,1266.9 666.3,1262.1 667.3,1257.2 668.1,1252.2 668.7,1247.3 669.1,1242.3 669.6,1237.3 670.0,1232.3 670.4,1227.3 670.8,1222.3 671.2,1217.4 671.5,1212.4 671.7,1207.4 672.0,1202.4 672.2,1197.4 672.3,1192.3 672.4,1187.3 672.3,1182.3 672.1,1177.3 672.0,1172.3 671.8,1167.3 671.6,1162.3 671.4,1157.3 671.2,1152.3 671.1,1147.3 671.0,1142.3 670.9,1137.3 670.9,1132.3 670.8,1127.3 670.8,1122.3 670.7,1117.3 670.7,1112.3 670.6,1107.3 670.6,1102.3 670.5,1097.3 670.5,1092.2 670.4,1087.2 670.4,1082.2 670.2,1077.2 670.0,1072.2 669.8,1067.2 669.6,1062.2 669.4,1057.2 669.1,1052.2 668.8,1047.2 668.4,1042.2 668.1,1037.2 667.7,1032.2 667.3,1027.3 667.0,1022.3 666.6,1017.3 666.2,1012.3 665.8,1007.3 665.4,1002.3 665.0,997.3 664.6,992.3 664.2,987.3 663.8,982.3 663.4,977.3 663.0,972.3 662.6,967.4 662.1,962.4 661.5,957.4 660.9,952.4 660.3,947.5 659.6,942.5 659.0,937.5 658.4,932.6 657.7,927.6 657.0,922.6 656.3,917.7 655.6,912.7 654.8,907.8 654.1,902.8 653.4,897.9 652.6,892.9 651.9,888.0 651.3,883.0 650.6,878.0 650.0,873.1 649.4,868.1 648.8,863.1 648.2,858.2 647.6,853.2 647.0,848.2 646.4,843.2 645.8,838.3 645.3,833.3 644.7,828.3 644.2,823.3 643.6,818.4 643.1,813.4 642.6,808.4 642.0,803.4 641.5,798.5 640.9,793.5 640.4,788.5 639.8,783.5 639.1,778.6 638.3,773.6 637.3,768.7 636.3,763.8 635.3,758.9 634.3,754.0 633.3,749.1 632.4,744.2 631.5,739.3 630.5,734.4 629.5,729.4 628.5,724.5 627.5,719.6 626.5,714.7 625.5,709.8 624.5,704.9 623.5,700.0 622.6,695.1 621.7,690.2 620.8,685.2 619.9,680.3 619.0,675.4 618.1,670.5 617.1,665.6 616.2,660.6 615.2,655.7 614.3,650.8 613.4,645.9 612.5,640.9 611.7,636.0 610.8,631.1 609.9,626.1 609.0,621.2 608.1,616.3 607.1,611.4 606.2,606.5 605.2,601.6 604.3,596.6 603.4,591.7 602.5,586.8 601.6,581.9 600.7,576.9 599.8,572.0 598.9,567.1 598.0,562.2 597.2,557.2 596.4,552.3 595.7,547.3 595.1,542.4 594.5,537.4 593.9,532.4 593.2,527.4 592.6,522.5 592.0,517.5 591.7,512.5 591.6,507.6 591.8,502.6 593.1,507.3 594.5,512.1 595.9,516.9 597.4,521.6 598.9,526.4 600.4,531.1 601.8,535.8 603.1,540.6 604.4,545.4 605.7,550.2 607.0,555.0 608.3,559.8 609.6,564.6 610.9,569.4 612.3,574.2 613.7,578.9 615.2,583.6 616.8,588.4 618.4,593.1 620.0,597.8 621.7,602.4 623.4,607.1 625.3,611.7 627.2,616.3 629.0,620.9 630.8,625.5 632.5,630.2 634.2,634.8 635.9,639.5 637.5,644.2 639.2,648.9 640.9,653.6 642.5,658.2 644.2,662.9 646.0,667.5 647.8,672.2 649.6,676.8 651.5,681.4 653.3,686.0 655.2,690.6 657.2,695.2 659.2,699.7 661.2,704.2 663.3,708.7 665.5,713.2 667.8,717.6 670.3,721.9 673.1,725.8 676.5,729.3 680.2,732.5 681.4,727.6 682.2,722.7 682.4,717.8 682.1,712.8 681.5,707.8 680.7,702.9 679.7,697.9 678.6,693.0 677.4,688.1 676.2,683.3 674.9,678.4 673.6,673.5 672.3,668.7 670.9,663.8 669.6,659.0 668.3,654.1 666.8,649.3 665.3,644.5 663.7,639.7 662.0,635.0 660.2,630.3 658.5,625.6 657.0,620.8 655.7,616.0 654.5,611.1 653.5,606.1 652.6,601.2 651.8,596.2 651.0,591.3 650.2,586.3 649.4,581.3 648.6,576.4 647.8,571.4 647.0,566.4 646.1,561.5 645.2,556.5 644.1,551.6 642.8,546.8 641.4,542.0 639.8,537.2 638.2,532.4 636.6,527.7 634.9,522.9 633.3,518.1 631.7,513.4 630.1,508.6 628.5,503.8 626.9,499.0 625.3,494.3 623.7,489.5 622.2,484.7 620.5,480.0 618.9,475.2 617.2,470.5 615.5,465.7 613.8,461.0 615.5,465.7 617.2,470.4 618.9,475.1 620.6,479.8 622.2,484.6 623.9,489.3 625.6,494.0 627.2,498.7 628.9,503.4 630.6,508.1 632.3,512.9 634.1,517.5 635.8,522.2 637.7,526.9 639.5,531.5 641.4,536.2 643.3,540.8 645.2,545.4 647.0,550.1 648.9,554.7 650.7,559.4 652.6,564.0 654.6,568.6 656.6,573.2 658.7,577.7 660.8,582.3 662.9,586.8 665.0,591.4 667.1,595.9 669.2,600.5 671.2,605.1 673.2,609.6 675.1,614.2 677.0,618.9 678.8,623.5 680.6,628.2 682.3,632.9 683.9,637.7 685.5,642.4 687.1,647.2 688.7,651.9 690.2,656.7 691.8,661.4 693.4,666.2 695.0,670.9 696.5,675.7 698.1,680.4 699.7,685.2 701.2,689.9 702.8,694.7 704.4,699.4 706.0,704.2 707.6,708.9 709.1,713.7 710.7,718.4 712.3,723.2 713.9,727.9 715.5,732.6 717.2,737.4 718.9,742.1 720.6,746.8 722.5,751.4 724.3,756.1 726.3,760.7 728.2,765.3 730.1,769.9 732.0,774.6 733.8,779.2 735.5,783.9 737.2,788.6 738.9,793.4 740.5,798.1 742.1,802.8 743.7,807.6 745.3,812.3 746.9,817.1 748.5,821.8 750.1,826.6 751.7,831.3 753.3,836.0 754.9,840.8 756.5,845.5 758.0,850.3 759.6,855.0 761.2,859.8 762.8,864.5 764.4,869.3 766.0,874.0 767.7,878.7 769.4,883.4 771.1,888.1 772.9,892.8 774.7,897.5 776.5,902.1 778.3,906.8 780.2,911.4 782.1,916.0 784.2,920.6 786.6,925.0 789.2,929.2 792.3,933.1 795.7,936.6 799.6,939.6 803.8,941.7 808.3,942.7 812.8,942.2 817.2,940.5 821.5,938.2 825.8,936.0 830.3,934.5 834.8,934.4 839.1,935.7 842.8,938.4 845.8,942.1 848.4,946.3 850.9,950.6 853.4,955.0 855.9,959.3 858.6,963.5 861.2,967.8 863.8,972.1 866.1,976.5 868.3,981.0 870.4,985.5 872.5,990.1 874.6,994.6 876.9,999.1 879.1,1003.5 881.5,1007.9 883.8,1012.3 886.2,1016.7 888.6,1021.2 890.9,1025.6 893.1,1030.1 895.3,1034.6 897.4,1039.1 899.6,1043.6 901.8,1048.1 903.9,1052.6 906.1,1057.2 908.1,1061.7 910.2,1066.3 912.2,1070.9 914.2,1075.4 916.3,1080.0 918.5,1084.5 920.7,1089.0 922.9,1093.5 925.2,1097.9 927.5,1102.4 929.8,1106.8 932.1,1111.3 934.3,1115.8 936.4,1120.3 938.5,1124.9 940.5,1129.4 942.4,1134.0 944.3,1138.7 946.1,1143.4 947.9,1148.0 949.6,1152.7 951.4,1157.4 953.2,1162.1 955.1,1166.7 957.1,1171.3 959.2,1175.8 961.5,1180.3 963.7,1184.8 966.0,1189.2 968.4,1193.6 971.0,1197.8 973.9,1201.8 976.7,1205.9 979.2,1210.2 981.3,1214.6 983.2,1219.3 985.0,1223.9 987.0,1228.5 989.1,1233.0 991.4,1237.4 993.9,1241.8 996.5,1246.1 999.0,1250.4 1001.5,1254.7 1004.0,1259.0 1006.6,1263.3 1009.4,1267.4 1012.3,1271.5 1015.4,1275.5 1018.5,1279.4 1021.7,1283.0 1025.3,1286.1 1029.2,1287.9 1033.1,1287.9 1036.6,1286.0 1039.2,1282.5 1041.1,1278.1 1042.4,1273.4 1043.3,1268.5 1044.2,1263.6 1045.1,1258.6 1046.0,1253.7 1046.9,1248.8 1047.7,1243.9 1048.2,1238.9 1048.5,1233.9 1048.7,1228.9 1048.9,1223.9 1049.0,1218.9 1049.1,1213.9 1049.3,1208.9 1049.5,1203.9 1049.6,1198.9 1049.6,1193.9 1049.4,1188.9 1049.0,1183.9 1048.6,1178.9 1048.2,1174.0 1047.9,1169.0 1047.8,1164.0 1047.7,1159.0 1047.7,1154.0 1047.7,1149.0 1047.7,1143.9 1047.7,1138.9 1047.7,1133.9 1047.7,1128.9 1047.6,1123.9 1047.4,1118.9 1047.2,1113.9 1046.9,1108.9 1046.7,1103.9 1046.4,1098.9 1046.2,1093.9 1045.9,1088.9 1045.7,1083.9 1045.4,1078.9 1045.2,1073.9 1044.9,1068.9 1044.6,1063.9 1044.4,1058.9 1044.1,1053.9 1043.9,1049.0 1043.6,1044.0 1043.3,1039.0 1043.1,1034.0 1042.8,1029.0 1042.6,1024.0 1042.3,1019.0 1042.0,1014.0 1041.8,1009.0 1041.5,1004.0 1041.2,999.0 1041.0,994.0 1040.7,989.0 1040.5,984.0 1040.2,979.0 1039.9,974.0 1039.5,969.0 1039.1,964.0 1038.7,959.0 1038.3,954.0 1037.9,949.0 1037.5,944.0 1037.1,939.1 1036.7,934.1 1036.2,929.1 1035.7,924.1 1035.2,919.1 1034.7,914.1 1034.2,909.2 1033.7,904.2 1033.2,899.2 1032.6,894.2 1032.0,889.3 1031.4,884.3 1030.8,879.3 1030.2,874.4 1029.5,869.4 1028.9,864.4 1028.2,859.5 1027.6,854.5 1026.8,849.6 1026.1,844.6 1025.4,839.7 1024.6,834.7 1023.9,829.8 1023.2,824.8 1022.4,819.9 1021.6,814.9 1020.8,810.0 1020.0,805.0 1019.2,800.1 1018.4,795.2 1017.6,790.2 1016.7,785.3 1015.7,780.4 1014.8,775.5 1013.8,770.6 1012.9,765.7 1011.9,760.7 1010.9,755.8 1009.9,750.9 1009.0,746.0 1008.0,741.1 1007.0,736.2 1006.0,731.3 1005.1,726.4 1004.1,721.5 1003.1,716.6 1002.1,711.7 1001.1,706.8 1000.1,701.9 999.1,697.0 998.1,692.0 997.2,687.1 996.4,682.2 995.6,677.2 994.8,672.3 994.0,667.4 993.2,662.4 992.4,657.5 991.6,652.5 990.7,647.6 989.8,642.7 988.9,637.8 987.9,632.9 986.9,628.0 986.1,623.0 985.3,618.1 984.6,613.1 983.9,608.2 983.1,603.2 982.4,598.3 981.7,593.3 981.0,588.4 980.3,583.4 979.5,578.5 978.7,573.5 977.8,568.6 977.0,563.7 976.1,558.7 975.1,553.8 974.2,548.9 973.2,544.0 972.2,539.1 971.2,534.2 970.2,529.3 969.3,524.4 968.3,519.5 967.3,514.6 966.3,509.7 965.3,504.7 964.4,499.8 963.4,494.9 962.4,490.0 961.3,485.1 960.4,480.2 959.4,475.3 958.6,470.4 957.8,465.4 957.2,460.5 956.9,455.5 956.8,450.5 957.0,445.5 957.2,440.5 959.3,445.1 961.3,449.7 963.3,454.3 965.0,459.0 966.7,463.8 968.2,468.5 969.7,473.3 971.2,478.1 972.8,482.9 974.4,487.7 976.0,492.4 977.5,497.2 979.1,502.0 980.7,506.7 982.2,511.5 983.8,516.3 985.3,521.1 986.7,525.9 988.3,530.7 989.8,535.5 991.4,540.3 993.0,545.0 994.5,549.8 996.0,554.6 997.5,559.4 999.0,564.2 1000.4,569.0 1001.9,573.8 1003.2,578.7 1004.6,583.5 1005.9,588.4 1007.1,593.2 1008.4,598.1 1009.6,603.0 1011.0,607.8 1012.3,612.6 1013.8,617.5 1015.3,622.3 1016.8,627.0 1018.3,631.8 1019.9,636.6 1021.4,641.4 1023.0,646.2 1024.5,651.0 1026.1,655.7 1027.6,660.5 1029.1,665.3 1030.6,670.1 1032.1,674.9 1033.6,679.7 1035.0,684.5 1036.6,689.3 1038.1,694.1 1039.6,698.9 1041.2,703.7 1042.7,708.4 1044.3,713.2 1045.9,718.0 1047.5,722.7 1049.2,727.5 1050.9,732.2 1052.6,736.9 1054.3,741.6 1056.1,746.3 1058.1,750.9 1060.6,755.2 1063.2,759.5 1065.7,763.8 1067.7,768.3 1069.3,773.0 1070.7,777.8 1072.1,782.6 1073.6,787.4 1075.2,792.2 1076.9,796.9 1078.9,801.5 1081.1,805.9 1083.7,810.2 1086.6,814.3 1088.4,809.6 1089.9,804.8 1090.8,800.0 1091.3,795.0 1091.3,790.1 1091.0,785.1 1090.4,780.1 1089.6,775.1 1088.7,770.2 1087.7,765.3 1086.7,760.4 1085.7,755.4 1084.7,750.5 1083.6,745.6 1082.5,740.7 1081.4,735.8 1080.1,731.0 1078.9,726.1 1077.7,721.2 1076.4,716.4 1075.1,711.5 1073.8,706.6 1072.6,701.8 1071.3,696.9 1070.0,692.1 1068.7,687.2 1067.5,682.4 1066.2,677.5 1064.9,672.6 1063.6,667.8 1062.1,663.0 1060.6,658.2 1058.9,653.5 1057.2,648.8 1055.4,644.1 1053.7,639.4 1052.0,634.6 1050.2,629.9 1048.5,625.2 1046.8,620.5 1045.1,615.8 1043.3,611.1 1041.6,606.3 1039.9,601.6 1038.2,596.9 1036.6,592.1 1035.0,587.4 1033.4,582.6 1031.8,577.8 1030.3,573.1 1028.8,568.3 1027.4,563.5 1025.9,558.7 1024.4,553.8 1022.9,549.1 1021.4,544.3 1019.9,539.5 1018.4,534.7 1017.0,529.9 1015.8,525.0 1014.8,520.2 1014.3,515.4 1014.4,510.6 1016.3,515.2 1018.2,519.9 1020.0,524.5 1021.8,529.2 1023.6,533.9 1025.3,538.6 1027.0,543.3 1028.7,548.0 1030.3,552.7 1032.0,557.4 1033.7,562.1 1035.4,566.8 1037.1,571.5 1038.7,576.2 1040.4,580.9 1042.1,585.6 1043.8,590.3 1045.5,595.0 1047.2,599.7 1048.9,604.4 1050.6,609.1 1052.4,613.8 1054.1,618.5 1055.9,623.2 1057.6,627.9 1059.4,632.5 1061.2,637.2 1062.9,641.9 1064.7,646.6 1066.5,651.3 1068.3,655.9 1070.1,660.6 1071.9,665.2 1073.7,669.9 1075.5,674.6 1077.2,679.3 1079.0,683.9 1080.7,688.6 1082.5,693.3 1084.3,698.0 1086.0,702.7 1087.8,707.3 1089.5,712.0 1091.3,716.7 1093.1,721.4 1094.8,726.1 1096.6,730.7 1098.3,735.4 1100.1,740.1 1101.8,744.8 1103.5,749.5 1105.2,754.2 1106.8,758.9 1108.4,763.7 1110.0,768.4 1111.5,773.2 1113.0,777.9 1114.5,782.7 1116.1,787.5 1117.6,792.2 1119.1,797.0 1120.6,801.8 1122.0,806.6 1123.4,811.4 1124.8,816.2 1126.2,821.0 1127.6,825.8 1129.1,830.5 1130.5,835.3 1132.0,840.1 1133.5,844.9 1135.0,849.6 1136.6,854.4 1138.1,859.1 1139.8,863.9 1141.5,868.6 1143.2,873.2 1145.1,877.9 1147.0,882.5 1149.2,887.0 1151.5,891.4 1154.1,895.6 1157.0,899.7 1159.9,903.7 1163.0,907.7 1166.2,911.5 1169.5,915.2 1173.1,918.6 1176.9,921.4 1180.7,923.0 1184.3,922.7 1187.7,920.5 1191.1,917.3 1194.7,914.2 1198.8,911.8 1203.1,910.3 1207.2,910.2 1210.6,911.9 1213.5,915.1 1215.7,919.4 1217.5,924.0 1219.0,928.7 1220.5,933.4 1222.5,937.9 1225.1,942.0 1228.2,945.6 1231.5,949.1 1234.0,952.9 1235.6,957.2 1236.6,961.9 1237.7,966.7 1239.3,971.3 1241.5,975.7 1244.4,979.6 1247.5,983.4 1250.3,987.4 1252.4,991.6 1253.7,996.2 1254.9,1001.0 1256.5,1005.7 1258.5,1010.1 1261.1,1014.3 1263.9,1018.4 1266.8,1022.4 1269.5,1026.6 1271.9,1031.0 1274.0,1035.5 1275.7,1040.1 1277.3,1044.9 1278.8,1049.6 1280.6,1054.2 1282.6,1058.8 1284.8,1063.3 1287.0,1067.8 1289.4,1072.2 1291.8,1076.6 1294.4,1080.8 1297.1,1085.0 1300.0,1089.1 1302.8,1093.1 1305.1,1097.4 1306.7,1102.0 1307.6,1106.8 1308.4,1111.6 1309.5,1116.4 1311.1,1121.0 1313.1,1125.6 1315.2,1130.1 1317.4,1134.6 1319.7,1139.0 1322.1,1143.4 1324.5,1147.8 1327.0,1152.2 1329.4,1156.5 1331.9,1160.8 1334.6,1164.8 1337.6,1168.5 1340.4,1172.0 1342.5,1176.0 1343.6,1180.5 1344.3,1185.3 1345.3,1190.1 1346.8,1194.8 1348.9,1199.3 1351.2,1203.7 1353.6,1208.1 1356.1,1212.4 1358.6,1216.7 1361.2,1221.0 1363.8,1225.3 1366.3,1229.6 1368.8,1233.9 1371.2,1238.3 1373.4,1242.8 1375.7,1247.2 1378.1,1251.6 1380.6,1255.8 1383.6,1259.8 1386.9,1263.2 1390.7,1265.9 1394.7,1268.1 1398.5,1270.4 1402.1,1273.3 1405.7,1276.5 1407.4,1271.8 1409.3,1267.2 1411.3,1262.7 1413.5,1258.4 1415.5,1254.0 1416.8,1249.4 1417.3,1244.6 1417.4,1239.6 1417.4,1234.6 1417.4,1229.6 1417.4,1224.7 1417.4,1219.7 1417.4,1214.7 1417.4,1209.7 1417.4,1204.7 1417.4,1199.7 1417.4,1194.7 1417.4,1189.7 1417.4,1184.7 1417.4,1179.7 1417.4,1174.7 1417.4,1169.7 1417.4,1164.7 1417.4,1159.7 1417.4,1154.7 1417.4,1149.7 1417.4,1144.8 1417.4,1139.8 1417.4,1134.8 1417.4,1129.8 1417.4,1124.8 1417.4,1119.8 1417.4,1114.8 1417.4,1109.8 1417.4,1104.8 1417.4,1099.8 1417.4,1094.8 1417.4,1089.8 1417.4,1084.8 1417.5,1079.8 1417.5,1074.8 1417.6,1069.8 1417.6,1064.9 1417.7,1059.9 1417.8,1054.9 1417.8,1049.9 1417.9,1044.9 1418.0,1039.9 1418.0,1034.9 1418.1,1029.9 1418.2,1024.9 1418.2,1019.9 1418.3,1014.9 1418.3,1009.9 1418.3,1004.9 1418.3,999.9 1418.3,994.9 1418.3,990.0 1418.3,985.0 1418.3,980.0 1418.3,975.0 1418.3,970.0 1418.3,965.0 1418.3,960.0 1418.3,955.0 1418.3,950.0 1417.9,945.2 1416.8,940.9 1414.7,937.0 1411.9,933.5 1409.7,929.6 1408.5,925.2 1408.1,920.4 1408.1,915.4 1408.0,910.4 1407.9,905.5 1407.4,900.7 1406.6,896.0 1405.6,891.4 1405.0,886.6 1404.4,881.8 1403.5,877.2 1402.1,872.8 1400.7,868.6 1399.8,864.0 1399.4,859.2 1399.2,854.2 1399.1,849.2 1398.9,844.2 1398.8,839.2 1398.6,834.2 1398.5,829.2 1398.4,824.3 1398.1,819.3 1397.6,814.4 1396.5,809.6 1395.0,804.9 1393.6,800.3 1392.7,795.5 1392.3,790.6 1392.0,785.6 1391.3,780.8 1390.1,776.0 1388.5,771.3 1386.9,766.6 1385.2,761.9 1383.6,757.2 1382.2,752.4 1381.3,747.6 1380.8,742.7 1380.4,737.8 1379.6,733.0 1378.3,728.3 1376.8,723.6 1375.5,718.8 1374.2,714.1 1372.8,709.3 1371.3,704.6 1370.1,699.8 1369.2,694.9 1368.2,690.0 1367.2,685.1 1366.2,680.3 1365.4,675.3 1364.8,670.4 1364.5,665.4 1364.3,660.4 1364.1,655.5 1364.0,650.5 1363.8,645.5 1363.8,640.5 1363.7,635.5 1363.7,630.5 1363.6,625.5 1363.6,620.5 1363.3,615.6 1362.6,610.8 1361.1,606.3 1359.0,601.9 1356.8,597.5 1355.0,593.0 1353.8,588.3 1353.2,583.4 1352.7,578.4 1352.0,573.6 1350.8,568.8 1349.2,564.2 1347.6,559.5 1346.4,554.7 1345.7,549.8 1345.1,544.9 1344.2,540.1 1342.9,535.4 1341.7,530.6 1340.7,525.8 1339.7,520.9 1338.6,516.1 1337.3,511.3 1336.1,506.5 1335.4,501.6 1335.0,496.7 1334.7,491.7 1334.1,486.8 1333.2,481.9 1332.1,477.1 1330.9,472.2 1329.6,467.4 1328.3,462.6 1326.9,457.9 1325.8,453.1 1325.3,448.3 1325.3,443.4 1325.3,438.5 1325.0,433.6 1324.0,428.7 1322.7,423.9 1321.2,419.2 1319.6,414.5 1318.2,409.7 1317.2,404.9 1316.8,400.0 1316.8,395.0 1316.9,390.0 1317.0,385.1 1317.2,380.1 1318.7,384.8 1320.2,389.5 1321.7,394.2 1323.3,398.9 1324.8,403.6 1326.4,408.3 1328.0,413.0 1329.6,417.7 1331.2,422.3 1332.9,427.0 1334.7,431.6 1336.4,436.3 1338.2,440.9 1339.8,445.5 1341.4,450.2 1343.0,454.9 1344.4,459.7 1345.8,464.4 1347.2,469.2 1348.5,473.9 1349.9,478.7 1351.4,483.4 1352.9,488.1 1354.4,492.8 1355.9,497.6 1357.3,502.3 1358.7,507.1 1360.2,511.8 1361.6,516.5 1363.1,521.3 1364.6,526.0 1366.2,530.7 1367.7,535.4 1369.2,540.1 1370.7,544.8 1372.3,549.5 1374.3,554.0 1376.6,558.3 1379.4,562.3 1382.7,565.8 1386.5,568.9 1390.5,571.7 1391.0,566.8 1391.5,561.8 1391.8,556.9 1391.9,551.9 1391.9,546.9 1391.8,542.0 1391.5,537.0 1390.9,532.1 1389.8,527.4 1387.9,523.1 1385.2,519.3 1382.2,515.7 1379.3,511.9 1377.0,507.7 1375.1,503.2 1373.3,498.5 1371.8,493.8 1370.4,489.1 1369.2,484.2 1368.1,479.4 1367.0,474.5 1365.9,469.7 1364.7,464.9 1363.3,460.1 1361.9,455.4 1360.2,450.7 1358.6,446.0 1357.0,441.3 1355.7,436.6 1354.9,431.7 1354.3,426.8 1353.8,421.8 1355.6,426.5 1357.4,431.2 1359.2,435.9 1361.0,440.6 1362.7,445.3 1364.5,450.0 1366.2,454.6 1368.0,459.3 1369.8,464.0 1371.7,468.6 1373.7,473.2 1375.6,477.8 1377.6,482.4 1379.6,487.1 1381.5,491.7 1383.4,496.3 1385.5,500.9 1387.6,505.4 1389.7,510.0 1391.7,514.5 1393.6,519.2 1395.4,523.8 1397.0,528.6 1398.5,533.3 1400.0,538.1 1401.4,542.9 1402.9,547.7 1404.4,552.5 1406.0,557.2 1407.8,561.9 1409.6,566.6 1411.4,571.2 1413.3,575.9 1415.1,580.5 1417.0,585.2 1418.8,589.9 1420.6,594.5 1422.4,599.2 1424.1,603.9 1425.7,608.6 1427.4,613.4 1429.2,618.1 1431.0,622.7 1432.7,627.4 1434.4,632.1 1435.9,636.9 1437.2,641.7 1438.4,646.6 1439.7,651.4 1441.1,656.2 1442.6,661.0 1444.3,665.7 1446.2,670.3 1448.4,674.8 1450.6,679.3 1452.9,683.7 1455.3,688.1 1457.8,692.4 1460.2,696.7 1462.0,701.2 1463.2,705.9 1464.1,710.8 1465.1,715.7 1466.3,720.5 1467.7,725.3 1469.2,730.1 1470.7,734.9 1472.3,739.6 1474.0,744.3 1475.7,749.0 1477.5,753.7 1479.2,758.4 1481.0,763.1 1482.7,767.8 1484.4,772.5 1486.2,777.2 1487.9,781.9 1489.6,786.6 1491.4,791.3 1493.1,796.0 1494.8,800.7 1496.6,805.4 1498.2,810.1 1499.8,814.9 1501.3,819.6 1502.8,824.4 1504.3,829.2 1505.8,834.0 1507.5,838.7 1509.3,843.3 1511.3,847.9 1513.4,852.4 1515.7,856.9 1517.9,861.4 1520.1,865.9 1522.3,870.4 1524.5,874.9 1526.6,879.5 1528.7,884.0 1530.9,888.5 1533.5,892.7 1536.5,896.7 1539.9,900.2 1543.7,902.9 1547.8,904.3 1551.9,903.9 1555.6,901.6 1559.2,898.4 1562.8,895.4 1566.8,893.5 1570.8,893.4 1574.8,895.0 1578.9,897.4 1583.0,899.8 1586.7,902.1 1589.6,905.1 1591.6,909.0 1593.2,913.5 1594.9,918.2 1596.7,922.8 1598.7,927.4 1600.8,931.9 1602.9,936.5 1605.2,940.9 1607.5,945.4 1609.9,949.8 1612.4,954.1 1614.8,958.5 1617.2,962.9 1619.5,967.4 1621.6,971.9 1623.9,976.3 1626.2,980.8 1628.4,985.2 1630.6,989.7 1632.8,994.2 1635.0,998.7 1637.6,1002.9 1640.5,1007.0 1643.4,1011.0 1645.9,1015.1 1648.0,1019.6 1649.6,1024.3 1651.1,1029.1 1652.6,1033.8 1654.2,1038.6 1655.9,1043.3 1657.7,1048.0 1659.6,1052.6 1661.8,1056.9 1664.5,1060.9 1667.4,1064.8 1669.9,1068.9 1671.7,1073.3 1673.2,1078.0 1674.8,1082.6 1676.7,1087.2 1678.8,1091.8 1680.8,1096.3 1682.8,1100.9 1684.9,1105.5 1687.0,1110.0 1689.1,1114.6 1691.3,1119.1 1693.4,1123.6 1695.3,1128.2 1697.4,1132.6 1699.9,1136.6 1702.9,1140.3 1705.9,1144.0 1708.1,1148.1 1709.6,1152.5 1711.1,1157.2 1712.8,1161.8 1714.8,1166.4 1716.8,1171.0 1718.8,1175.6 1720.7,1180.2 1722.5,1184.9 1724.2,1189.6 1725.9,1194.2 1727.8,1198.8 1730.1,1203.2 1732.8,1207.3 1736.1,1210.8 1739.6,1214.0 1742.8,1217.2 1745.1,1221.1 1746.8,1225.4 1748.6,1230.0 1750.6,1234.5 1752.9,1238.9 1755.5,1243.2 1758.4,1247.2 1761.7,1250.9 1765.3,1254.4" fill="none" stroke="#00d000" stroke-width="6.6" stroke-linejoin="round" stroke-linecap="butt"/>
<polyline points="282.5,1292.5 282.5,1287.5 282.5,1282.5 282.5,1277.5 282.5,1272.5 282.5,1267.5 282.5,1262.5 282.5,1257.5 282.5,1252.5 282.5,1247.6 282.5,1242.6 282.5,1237.6 282.5,1232.6 282.5,1227.6 282.5,1222.6 282.5,1217.6 282.5,1212.6 282.5,1207.6 282.5,1202.7 282.5,1197.7 282.5,1192.7 282.5,1187.7 282.4,1182.7 282.4,1177.7 282.4,1172.7 282.4,1167.7 282.4,1162.7 282.3,1157.8 282.3,1152.8 282.3,1147.8 282.3,1142.8 282.3,1137.8 282.2,1132.8 282.2,1127.8 282.2,1122.8 282.2,1117.8 282.2,1112.9 282.1,1107.9 282.1,1102.9 282.1,1097.9 282.1,1092.9 282.1,1087.9 282.0,1082.9 282.0,1077.9 281.9,1072.9 281.9,1067.9 281.8,1063.0 281.8,1058.0 281.7,1053.0 281.6,1048.0 281.6,1043.0 281.5,1038.0 281.4,1033.0 281.4,1028.0 281.3,1023.0 281.3,1018.1 281.2,1013.1 281.1,1008.1 281.1,1003.1 281.0,998.1 280.9,993.1 280.9,988.1 280.8,983.1 280.8,978.1 280.7,973.2 280.7,968.2 280.6,963.2 280.6,958.2 280.6,953.2 280.5,948.2 280.5,943.2 280.5,938.2 280.4,933.2 280.4,928.3 280.3,923.3 280.3,918.3 280.3,913.3 280.2,908.3 280.2,903.3 280.2,898.3 280.1,893.3 280.1,888.3 280.1,883.4 280.0,878.4 280.0,873.4 279.9,868.4 279.9,863.4 279.9,858.4 279.8,853.4 279.8,848.4 279.8,843.4 279.7,838.5 279.7,833.5 279.7,828.5 279.6,823.5 279.6,818.5 279.6,813.5 279.5,808.5 279.5,803.5 279.4,798.5 279.3,793.6 279.2,788.6 279.0,783.6 278.9,778.6 278.7,773.6 278.5,768.6 278.1,763.7 277.7,758.8 277.9,754.2 279.2,750.4 281.7,748.2 284.8,748.3 288.0,750.7 290.8,754.3 293.3,758.6 295.6,763.0 297.5,767.6 299.2,772.3 300.9,777.0 302.4,781.7 303.8,786.5 305.0,791.3 306.1,796.2 307.1,801.1 308.3,805.9 309.6,810.7 311.0,815.5 312.5,820.3 314.1,825.0 315.7,829.7 317.3,834.4 319.2,839.0 321.4,843.4 324.2,847.3 327.4,850.8 329.4,846.3 330.7,841.6 331.4,836.8 331.5,831.8 331.2,826.9 330.6,821.9 329.7,817.0 328.8,812.0 327.9,807.1 326.9,802.2 326.0,797.3 325.0,792.3 324.1,787.4 323.3,782.5 322.7,777.5 322.2,772.5 321.9,767.5 321.5,762.5 321.0,757.5 320.2,752.6 319.4,747.6 318.6,742.7 317.7,737.7 316.8,732.8 315.8,727.9 314.7,723.0 313.6,718.1 312.5,713.2 311.4,708.3 310.1,703.5 308.6,698.7 307.0,694.0 305.2,689.3 303.4,684.6 301.5,679.9 299.6,675.3 297.7,670.6 295.7,666.0 293.7,661.4 291.7,656.8 289.7,652.2 287.7,647.6 285.8,643.0 284.3,638.3 283.4,633.4 282.8,628.5 282.4,623.5 282.0,618.5 281.6,613.5 281.1,608.5 280.8,603.5 280.5,598.5 280.4,593.5 280.4,588.5 280.5,583.4 280.5,578.4 283.8,582.2 286.8,586.1 289.5,590.2 291.8,594.6 293.8,599.2 295.6,603.8 297.4,608.5 299.0,613.2 300.6,617.9 302.2,622.6 303.9,627.4 305.7,632.0 307.5,636.7 309.3,641.3 311.2,646.0 313.0,650.6 314.9,655.2 316.7,659.9 318.6,664.5 320.5,669.1 322.3,673.8 324.2,678.4 326.0,683.0 327.9,687.7 329.7,692.3 331.5,697.0 333.3,701.7 334.9,706.4 336.4,711.1 337.9,715.9 339.4,720.6 340.9,725.4 342.4,730.2 343.9,734.9 345.5,739.7 347.1,744.4 348.6,749.1 350.2,753.9 351.8,758.6 353.4,763.4 354.9,768.1 356.3,772.9 357.7,777.7 359.0,782.5 360.4,787.3 361.8,792.1 363.3,796.9 364.8,801.6 366.3,806.4 367.8,811.1 369.4,815.9 370.9,820.6 372.5,825.4 374.1,830.1 375.7,834.8 377.3,839.6 378.9,844.3 380.5,849.0 382.1,853.8 383.7,858.5 385.2,863.3 386.6,868.0 388.1,872.8 389.5,877.6 391.0,882.4 392.5,887.1 394.1,891.9 395.7,896.6 397.3,901.3 399.0,906.0 400.8,910.7 402.6,915.3 404.7,919.8 407.1,924.2 409.8,928.3 412.9,932.1 416.6,935.4 420.6,937.9 424.8,939.0 429.2,938.6 433.5,936.8 437.9,934.6 442.3,932.6 446.9,931.5 451.3,931.8 455.2,933.8 458.4,937.1 460.9,941.2 463.2,945.6 465.4,950.1 467.7,954.6 470.0,959.0 472.4,963.3 474.9,967.7 477.2,972.1 479.5,976.5 481.8,981.0 484.0,985.5 486.1,990.0 488.3,994.5 490.4,999.0 492.6,1003.5 494.7,1008.0 496.7,1012.6 498.7,1017.1 500.8,1021.7 502.8,1026.3 504.9,1030.8 507.2,1035.2 509.6,1039.6 512.1,1043.9 514.6,1048.2 517.1,1052.5 519.3,1057.0 521.3,1061.5 523.3,1066.1 525.3,1070.7 527.2,1075.3 529.2,1079.9 531.1,1084.5 533.1,1089.1 535.2,1093.6 537.3,1098.1 539.5,1102.7 541.6,1107.2 543.7,1111.7 545.9,1116.2 548.0,1120.7 550.2,1125.2 552.5,1129.6 554.8,1134.1 557.0,1138.5 559.3,1143.0 561.6,1147.4 563.9,1151.8 566.2,1156.3 568.5,1160.7 570.7,1165.2 573.0,1169.6 575.3,1174.1 577.5,1178.5 579.8,1183.0 581.9,1187.5 583.9,1192.0 585.7,1196.7 587.3,1201.4 588.8,1206.2 590.3,1210.9 591.9,1215.6 593.8,1220.2 596.0,1224.7 598.4,1229.1 600.8,1233.4 603.3,1237.8 605.7,1242.1 608.2,1246.4 610.6,1250.8 613.1,1255.2 615.5,1259.5 617.9,1263.9 620.3,1268.3 622.9,1272.5 625.7,1276.6 628.9,1280.4 632.5,1283.5 636.5,1285.8 640.7,1286.7 644.7,1285.9 648.1,1283.4 650.5,1279.7 652.0,1275.2 653.0,1270.4 653.7,1265.5 654.3,1260.5 654.8,1255.6 655.2,1250.6 655.6,1245.6 655.9,1240.6 656.3,1235.6 656.6,1230.7 656.8,1225.7 657.0,1220.7 657.1,1215.7 657.2,1210.7 657.4,1205.7 657.5,1200.7 657.6,1195.7 657.7,1190.7 657.8,1185.7 657.8,1180.7 657.8,1175.8 657.7,1170.8 657.6,1165.8 657.5,1160.8 657.4,1155.8 657.3,1150.8 657.2,1145.8 657.0,1140.8 656.9,1135.8 656.8,1130.8 656.7,1125.8 656.7,1120.8 656.6,1115.8 656.5,1110.9 656.4,1105.9 656.3,1100.9 656.2,1095.9 656.2,1090.9 656.1,1085.9 656.0,1080.9 655.8,1075.9 655.7,1070.9 655.5,1065.9 655.4,1060.9 655.2,1055.9 655.1,1051.0 654.9,1046.0 654.8,1041.0 654.6,1036.0 654.4,1031.0 654.2,1026.0 653.9,1021.0 653.7,1016.0 653.5,1011.0 653.2,1006.1 653.0,1001.1 652.7,996.1 652.3,991.1 651.8,986.1 651.4,981.2 650.9,976.2 650.4,971.2 649.9,966.3 649.4,961.3 648.8,956.3 648.3,951.4 647.7,946.4 647.0,941.5 646.4,936.5 645.8,931.5 645.2,926.6 644.6,921.6 644.0,916.7 643.5,911.7 643.1,906.7 642.7,901.8 642.3,896.8 641.9,891.8 641.4,886.8 641.0,881.8 640.6,876.9 640.1,871.9 639.5,866.9 638.9,862.0 638.2,857.0 637.5,852.1 636.8,847.2 636.1,842.2 635.4,837.3 634.7,832.3 634.0,827.4 633.2,822.5 632.5,817.5 631.8,812.6 631.1,807.6 630.4,802.7 629.7,797.7 629.0,792.8 628.3,787.9 627.5,782.9 626.7,778.0 625.8,773.1 624.8,768.2 623.7,763.3 622.5,758.5 621.3,753.6 620.1,748.8 618.9,743.9 617.8,739.1 616.8,734.2 616.0,729.3 615.1,724.3 614.4,719.4 613.6,714.5 612.8,709.6 612.0,704.6 611.2,699.7 610.4,694.8 609.6,689.8 608.8,684.9 608.0,680.0 607.1,675.1 606.3,670.1 605.5,665.2 604.6,660.3 603.8,655.4 602.9,650.4 602.1,645.5 601.2,640.6 600.3,635.7 599.5,630.8 598.6,625.9 597.8,620.9 596.9,616.0 596.0,611.1 595.2,606.2 594.3,601.3 593.5,596.3 592.7,591.4 591.8,586.5 591.0,581.6 590.1,576.6 589.2,571.7 588.4,566.8 587.6,561.9 586.7,557.0 586.0,552.0 585.3,547.1 584.7,542.1 584.1,537.2 583.6,532.2 583.1,527.2 582.8,522.3 582.9,517.3 583.3,512.4 583.9,507.4 585.6,512.1 587.2,516.8 588.7,521.5 590.2,526.3 591.7,531.0 593.1,535.7 594.4,540.5 595.7,545.3 597.0,550.1 598.3,554.9 599.6,559.6 601.0,564.4 602.3,569.2 603.7,573.9 605.2,578.7 606.7,583.4 608.3,588.1 609.8,592.8 611.5,597.5 613.2,602.1 614.9,606.8 616.5,611.5 618.1,616.2 619.6,620.9 621.1,625.6 622.5,630.4 623.8,635.1 625.2,639.9 626.6,644.7 628.1,649.4 629.6,654.1 631.2,658.8 632.9,663.4 634.6,668.1 636.4,672.7 638.2,677.3 640.0,682.0 641.8,686.6 643.7,691.1 645.6,695.7 647.6,700.2 649.8,704.7 652.1,709.0 654.8,713.2 657.9,717.0 661.3,720.4 665.0,723.7 666.1,718.8 666.9,713.9 667.1,709.0 666.7,704.0 666.1,699.0 665.4,694.1 664.6,689.1 663.8,684.1 662.9,679.2 662.0,674.2 661.0,669.3 659.8,664.4 658.5,659.6 657.1,654.8 655.6,649.9 654.2,645.1 652.7,640.3 651.3,635.5 649.8,630.7 648.4,625.9 646.9,621.1 645.5,616.3 644.0,611.4 642.6,606.6 641.1,601.8 639.6,597.0 637.9,592.3 636.2,587.6 634.6,582.8 632.9,578.1 631.3,573.3 629.9,568.5 628.5,563.7 627.3,558.8 626.2,553.9 625.1,549.0 624.0,544.1 622.9,539.2 621.7,534.3 620.4,529.4 619.1,524.6 617.8,519.7 616.5,514.9 615.2,510.0 614.0,505.1 612.8,500.2 611.7,495.3 610.5,490.4 609.4,485.6 608.2,480.7 607.1,475.8 606.0,470.9 604.9,466.0 604.0,461.0 605.3,465.9 606.6,470.7 607.9,475.5 609.2,480.3 610.6,485.1 612.0,489.9 613.5,494.7 614.9,499.5 616.4,504.3 617.8,509.1 619.4,513.9 621.0,518.6 622.8,523.3 624.7,527.9 626.6,532.5 628.7,537.1 630.7,541.7 632.7,546.3 634.6,550.9 636.4,555.5 638.3,560.2 640.1,564.9 641.9,569.5 643.7,574.2 645.6,578.8 647.5,583.5 649.4,588.1 651.4,592.7 653.5,597.2 655.6,601.8 657.6,606.3 659.7,610.9 661.6,615.5 663.4,620.2 665.2,624.9 667.0,629.5 668.7,634.2 670.5,638.9 672.2,643.6 673.9,648.3 675.6,653.0 677.3,657.8 678.9,662.5 680.5,667.2 682.0,672.0 683.5,676.8 684.9,681.6 686.4,686.4 687.9,691.2 689.3,695.9 690.9,700.7 692.4,705.5 694.0,710.2 695.6,715.0 697.2,719.7 698.9,724.4 700.6,729.1 702.3,733.8 704.1,738.5 705.8,743.2 707.4,747.9 709.0,752.7 710.6,757.4 712.3,762.2 713.9,766.9 715.6,771.6 717.3,776.3 719.1,781.0 720.8,785.7 722.6,790.3 724.5,795.0 726.3,799.7 728.2,804.3 730.0,809.0 731.8,813.6 733.6,818.3 735.3,823.0 736.9,827.8 738.5,832.5 740.1,837.3 741.6,842.0 743.2,846.8 744.7,851.5 746.1,856.3 747.6,861.1 749.0,865.9 750.5,870.7 752.0,875.5 753.6,880.2 755.3,884.9 757.0,889.6 758.8,894.3 760.6,898.9 762.6,903.6 764.6,908.2 766.6,912.7 768.6,917.3 770.7,921.9 772.7,926.4 774.9,930.9 777.5,935.0 780.7,938.6 784.6,941.5 788.9,943.2 793.5,943.8 798.2,943.2 802.8,941.7 807.3,939.7 811.7,937.8 816.1,936.9 820.3,937.7 824.1,940.0 827.4,943.5 830.2,947.6 832.6,951.9 835.0,956.3 837.3,960.8 839.7,965.2 842.1,969.5 844.3,974.0 846.4,978.5 848.4,983.1 850.4,987.7 852.7,992.0 855.4,996.2 858.2,1000.3 861.0,1004.5 863.4,1008.8 865.4,1013.3 867.3,1017.9 869.3,1022.5 871.4,1027.1 873.6,1031.6 875.8,1036.1 877.9,1040.6 880.0,1045.1 882.1,1049.7 884.2,1054.2 886.3,1058.8 888.4,1063.3 890.5,1067.9 892.6,1072.4 894.6,1077.0 896.6,1081.6 898.5,1086.2 900.4,1090.8 902.3,1095.5 904.1,1100.2 905.8,1104.8 907.6,1109.5 909.3,1114.2 911.3,1118.8 913.4,1123.3 915.7,1127.8 918.0,1132.2 920.2,1136.7 922.3,1141.2 924.3,1145.8 926.2,1150.5 928.2,1155.1 930.1,1159.7 932.0,1164.3 934.0,1168.9 936.0,1173.5 938.0,1178.1 940.2,1182.6 942.4,1187.1 944.7,1191.5 947.1,1195.9 949.6,1200.2 952.1,1204.5 954.6,1208.9 956.9,1213.3 959.0,1217.8 961.0,1222.4 963.0,1227.0 965.1,1231.5 967.3,1236.0 969.5,1240.5 971.6,1245.1 973.8,1249.6 976.1,1254.0 978.7,1258.2 981.4,1262.4 984.1,1266.7 986.7,1270.9 989.3,1275.2 992.1,1279.2 995.4,1282.7 999.3,1285.4 1003.6,1286.8 1007.9,1286.6 1011.8,1284.8 1014.9,1281.5 1017.2,1277.3 1018.7,1272.7 1019.7,1267.8 1020.4,1262.9 1021.1,1257.9 1021.6,1252.9 1022.2,1248.0 1022.8,1243.0 1023.4,1238.0 1024.0,1233.0 1024.5,1228.1 1024.9,1223.1 1025.2,1218.1 1025.5,1213.1 1025.6,1208.1 1025.7,1203.1 1025.7,1198.1 1025.7,1193.1 1025.7,1188.1 1025.7,1183.1 1025.7,1178.1 1025.7,1173.0 1025.7,1168.0 1025.7,1163.0 1025.7,1158.0 1025.7,1153.0 1025.7,1148.0 1025.6,1143.0 1025.5,1138.0 1025.2,1133.0 1024.9,1128.0 1024.5,1123.0 1024.1,1118.0 1023.8,1113.0 1023.4,1108.1 1023.0,1103.1 1022.6,1098.1 1022.3,1093.1 1021.9,1088.1 1021.6,1083.1 1021.3,1078.1 1021.2,1073.1 1021.0,1068.1 1020.9,1063.1 1020.8,1058.1 1020.7,1053.1 1020.6,1048.1 1020.5,1043.1 1020.3,1038.1 1020.1,1033.1 1019.9,1028.1 1019.6,1023.1 1019.3,1018.1 1019.0,1013.1 1018.8,1008.1 1018.5,1003.1 1018.2,998.1 1017.9,993.1 1017.5,988.1 1017.2,983.1 1016.7,978.1 1016.2,973.1 1015.8,968.1 1015.3,963.2 1014.8,958.2 1014.3,953.2 1013.8,948.2 1013.4,943.2 1013.0,938.2 1012.6,933.2 1012.2,928.3 1011.8,923.3 1011.5,918.3 1011.1,913.3 1010.7,908.3 1010.2,903.3 1009.6,898.4 1008.9,893.4 1008.2,888.4 1007.4,883.5 1006.7,878.5 1005.9,873.6 1005.1,868.7 1004.4,863.7 1003.7,858.7 1003.1,853.8 1002.4,848.8 1001.8,843.8 1001.1,838.9 1000.4,833.9 999.6,829.0 998.8,824.1 997.9,819.1 997.0,814.2 996.2,809.3 995.3,804.3 994.5,799.4 993.6,794.5 992.7,789.5 991.9,784.6 991.0,779.7 990.1,774.7 989.3,769.8 988.4,764.9 987.6,760.0 986.7,755.0 985.9,750.1 985.1,745.1 984.3,740.2 983.5,735.3 982.8,730.3 982.0,725.4 981.3,720.4 980.4,715.5 979.6,710.5 978.7,705.6 977.9,700.7 977.0,695.7 976.2,690.8 975.3,685.9 974.6,680.9 973.8,676.0 973.1,671.0 972.3,666.1 971.5,661.1 970.7,656.2 969.9,651.3 969.0,646.3 968.2,641.4 967.3,636.5 966.4,631.5 965.6,626.6 964.7,621.7 963.8,616.7 962.9,611.8 962.1,606.9 961.2,602.0 960.3,597.0 959.5,592.1 958.6,587.2 957.7,582.2 956.9,577.3 956.0,572.4 955.1,567.5 954.1,562.5 953.2,557.6 952.2,552.7 951.2,547.8 950.3,542.9 949.3,538.0 948.4,533.1 947.5,528.1 946.7,523.2 945.8,518.3 944.9,513.3 944.0,508.4 943.1,503.5 942.1,498.6 941.1,493.7 940.2,488.8 939.3,483.8 938.4,478.9 937.6,474.0 936.9,469.0 936.4,464.1 936.4,459.3 937.3,454.6 938.9,450.1 940.6,454.8 942.3,459.5 943.9,464.2 945.5,469.0 947.0,473.8 948.5,478.6 950.0,483.4 951.4,488.2 952.9,493.0 954.4,497.8 955.8,502.6 957.2,507.4 958.6,512.2 960.0,517.1 961.3,521.9 962.7,526.7 964.0,531.6 965.3,536.4 966.6,541.3 967.8,546.1 969.1,551.0 970.4,555.8 971.7,560.7 973.0,565.5 974.3,570.4 975.6,575.2 976.9,580.1 978.2,584.9 979.5,589.8 980.8,594.6 982.1,599.4 983.5,604.3 984.8,609.1 986.2,613.9 987.7,618.7 989.1,623.5 990.7,628.3 992.2,633.1 993.8,637.8 995.4,642.6 997.0,647.4 998.6,652.1 1000.2,656.9 1001.8,661.6 1003.4,666.4 1005.0,671.1 1006.6,675.9 1008.2,680.7 1009.8,685.4 1011.4,690.2 1013.0,694.9 1014.6,699.7 1016.2,704.5 1017.8,709.2 1019.4,714.0 1021.0,718.7 1022.6,723.5 1024.2,728.2 1025.8,733.0 1027.5,737.7 1029.1,742.5 1030.7,747.3 1032.2,752.0 1033.8,756.8 1035.4,761.5 1037.1,766.3 1038.7,771.0 1040.5,775.7 1042.3,780.4 1044.1,785.1 1045.9,789.7 1047.8,794.4 1049.7,799.0 1051.7,803.7 1053.7,808.3 1055.7,812.9 1057.8,817.4 1060.0,821.9 1062.3,826.4 1064.6,830.8 1066.2,826.1 1067.3,821.3 1067.9,816.4 1067.9,811.5 1067.8,806.5 1067.5,801.5 1067.2,796.5 1066.8,791.5 1066.3,786.5 1065.8,781.6 1065.2,776.6 1064.6,771.6 1063.9,766.7 1063.3,761.7 1062.5,756.8 1061.7,751.8 1060.7,746.9 1059.8,742.0 1058.7,737.1 1057.6,732.2 1056.4,727.4 1055.2,722.5 1053.9,717.7 1052.6,712.9 1051.2,708.1 1049.7,703.3 1048.2,698.5 1046.6,693.8 1045.0,689.0 1043.3,684.3 1041.5,679.7 1039.7,675.0 1038.0,670.3 1036.2,665.6 1034.6,660.9 1033.0,656.1 1031.5,651.4 1030.0,646.6 1028.5,641.8 1026.9,637.1 1025.3,632.4 1023.7,627.6 1022.0,622.9 1020.3,618.2 1018.7,613.5 1017.0,608.8 1015.3,604.0 1013.7,599.3 1012.0,594.6 1010.4,589.9 1008.7,585.1 1007.1,580.4 1005.6,575.6 1004.2,570.8 1003.0,566.0 1001.8,561.1 1000.6,556.3 999.3,551.4 997.9,546.7 996.4,541.9 994.8,537.1 993.4,532.4 992.2,527.6 991.5,522.7 991.2,517.9 993.2,522.6 995.1,527.2 997.1,531.8 999.1,536.4 1001.0,541.0 1002.9,545.6 1004.7,550.3 1006.5,555.0 1008.1,559.7 1009.7,564.5 1011.3,569.2 1012.9,574.0 1014.5,578.7 1016.1,583.5 1017.7,588.2 1019.3,593.0 1020.9,597.7 1022.6,602.4 1024.2,607.1 1025.9,611.9 1027.6,616.6 1029.3,621.3 1031.0,626.0 1032.7,630.7 1034.4,635.4 1036.1,640.1 1037.8,644.9 1039.4,649.6 1041.1,654.3 1042.8,659.0 1044.5,663.7 1046.1,668.5 1047.8,673.2 1049.5,677.9 1051.2,682.6 1053.0,687.3 1054.7,692.0 1056.6,696.6 1058.4,701.3 1060.3,706.0 1062.2,710.6 1064.0,715.2 1065.9,719.9 1067.7,724.6 1069.5,729.2 1071.3,733.9 1073.1,738.6 1074.8,743.3 1076.5,748.0 1078.2,752.7 1079.9,757.4 1081.6,762.1 1083.3,766.8 1085.0,771.6 1086.6,776.3 1088.2,781.0 1089.8,785.8 1091.3,790.6 1092.7,795.4 1094.1,800.2 1095.5,805.0 1096.8,809.9 1098.1,814.7 1099.4,819.5 1100.8,824.3 1102.2,829.1 1103.6,833.9 1105.1,838.7 1106.6,843.5 1108.1,848.3 1109.7,853.0 1111.4,857.7 1113.1,862.4 1115.0,867.1 1116.9,871.7 1118.9,876.3 1120.9,880.9 1122.9,885.5 1125.0,890.0 1127.1,894.6 1129.4,899.1 1131.6,903.5 1133.9,908.0 1136.3,912.4 1138.7,916.8 1141.3,921.0 1144.3,924.8 1147.4,927.6 1150.6,928.2 1153.5,926.4 1156.1,922.9 1159.0,919.0 1162.4,915.6 1166.3,913.2 1170.7,912.3 1175.1,912.8 1179.4,914.5 1183.4,916.8 1186.6,919.8 1188.5,923.7 1189.4,928.3 1190.1,933.1 1191.5,937.6 1193.7,941.9 1196.2,946.1 1198.8,950.4 1201.2,954.7 1203.5,959.2 1205.7,963.7 1207.8,968.2 1209.9,972.8 1211.9,977.4 1213.9,982.0 1216.0,986.5 1218.0,991.1 1220.0,995.7 1222.1,1000.3 1224.1,1004.9 1226.2,1009.4 1228.3,1013.9 1230.6,1018.4 1233.1,1022.7 1235.8,1026.9 1238.5,1031.1 1240.9,1035.4 1242.7,1039.9 1244.0,1044.7 1245.3,1049.4 1247.0,1054.1 1249.0,1058.6 1251.1,1063.1 1253.2,1067.7 1255.3,1072.2 1257.5,1076.7 1259.9,1081.2 1262.4,1085.4 1265.2,1089.6 1267.9,1093.7 1270.4,1098.0 1272.2,1102.5 1273.5,1107.2 1274.6,1112.0 1275.9,1116.8 1277.4,1121.6 1279.1,1126.3 1280.9,1131.0 1282.8,1135.6 1284.9,1140.2 1287.0,1144.7 1289.3,1149.2 1291.5,1153.7 1293.9,1158.1 1296.5,1162.3 1299.3,1166.4 1302.2,1170.4 1304.6,1174.5 1306.3,1179.0 1307.5,1183.7 1308.7,1188.5 1310.2,1193.2 1312.0,1197.8 1313.9,1202.5 1315.8,1207.1 1317.8,1211.7 1319.9,1216.2 1322.2,1220.7 1324.7,1225.0 1327.4,1229.2 1330.4,1233.1 1333.7,1236.6 1337.2,1239.6 1340.4,1242.6 1342.6,1246.2 1343.8,1250.6 1344.7,1255.3 1346.1,1259.8 1348.4,1263.9 1351.7,1267.2 1355.7,1269.9 1360.0,1272.3 1364.5,1274.4 1369.0,1276.5 1370.6,1271.8 1372.5,1267.2 1374.7,1262.9 1376.9,1258.6 1378.7,1254.2 1379.8,1249.5 1380.3,1244.6 1380.6,1239.7 1380.7,1234.7 1380.8,1229.6 1380.8,1224.6 1380.8,1219.6 1380.8,1214.6 1380.8,1209.6 1380.8,1204.6 1380.8,1199.6 1380.8,1194.6 1380.8,1189.6 1380.8,1184.6 1380.8,1179.6 1380.8,1174.6 1380.8,1169.6 1380.8,1164.6 1380.8,1159.6 1380.8,1154.6 1380.8,1149.6 1380.8,1144.6 1380.8,1139.6 1380.9,1134.6 1380.9,1129.5 1380.9,1124.5 1380.9,1119.5 1381.0,1114.5 1381.0,1109.5 1381.0,1104.5 1381.0,1099.5 1381.1,1094.5 1381.1,1089.5 1381.1,1084.5 1381.1,1079.5 1381.1,1074.5 1381.1,1069.5 1381.1,1064.5 1381.1,1059.5 1381.1,1054.5 1381.1,1049.5 1381.2,1044.5 1381.2,1039.5 1381.2,1034.5 1381.2,1029.5 1381.3,1024.4 1381.3,1019.4 1381.3,1014.4 1381.3,1009.4 1381.3,1004.4 1381.2,999.4 1381.1,994.4 1380.8,989.4 1380.6,984.4 1380.3,979.4 1379.9,974.5 1379.2,969.5 1378.2,964.7 1377.0,959.8 1375.8,954.9 1374.7,950.1 1373.6,945.2 1372.6,940.3 1371.8,935.4 1371.4,930.4 1371.3,925.4 1371.3,920.4 1371.3,915.4 1371.2,910.4 1371.0,905.4 1370.6,900.4 1370.1,895.5 1369.6,890.5 1368.9,885.5 1368.3,880.6 1367.6,875.6 1367.0,870.6 1366.4,865.7 1366.1,860.7 1365.9,855.7 1365.7,850.7 1365.4,845.7 1365.0,840.7 1364.3,835.8 1363.4,830.9 1362.4,826.0 1361.2,821.1 1359.8,816.3 1358.2,811.6 1356.7,806.8 1355.2,802.1 1354.2,797.2 1353.7,792.3 1353.5,787.4 1353.1,782.5 1352.4,777.6 1351.3,772.8 1350.2,767.9 1349.1,763.0 1347.9,758.2 1346.5,753.5 1345.2,748.7 1344.4,743.9 1344.0,738.9 1343.7,734.0 1343.1,729.1 1342.2,724.2 1341.2,719.3 1340.4,714.4 1339.5,709.5 1338.5,704.7 1337.6,699.8 1337.0,694.9 1336.7,690.0 1336.7,685.0 1336.7,680.0 1336.7,675.0 1336.7,670.0 1336.6,665.0 1336.5,660.0 1336.1,655.1 1334.9,650.5 1333.0,646.1 1330.7,641.8 1328.8,637.3 1327.7,632.6 1327.3,627.7 1327.2,622.8 1326.9,617.9 1326.1,613.1 1324.5,608.5 1322.7,603.9 1321.0,599.2 1319.6,594.5 1318.6,589.6 1318.1,584.7 1317.9,579.7 1317.7,574.8 1317.0,570.0 1315.5,565.3 1313.6,560.8 1311.6,556.2 1309.9,551.6 1308.6,546.8 1307.8,541.9 1307.4,537.0 1307.3,532.0 1307.4,527.0 1307.4,522.0 1307.4,517.0 1307.4,512.0 1307.2,507.1 1306.5,502.4 1304.9,498.1 1302.8,493.8 1300.9,489.4 1299.7,484.8 1299.0,479.9 1298.5,474.9 1297.8,470.0 1296.5,465.3 1295.0,460.6 1293.4,455.9 1292.0,451.1 1291.0,446.2 1290.4,441.3 1290.1,436.3 1290.1,431.3 1290.1,426.3 1290.1,421.3 1290.1,416.3 1290.1,411.3 1290.1,406.3 1290.1,401.3 1291.5,406.1 1292.9,410.9 1294.4,415.7 1295.8,420.4 1297.3,425.2 1298.9,430.0 1300.4,434.7 1301.9,439.5 1303.3,444.3 1304.5,449.1 1305.7,454.0 1306.7,458.9 1307.6,463.8 1308.6,468.6 1309.8,473.4 1311.3,478.2 1312.8,482.9 1314.2,487.7 1315.4,492.6 1316.6,497.4 1317.9,502.3 1319.1,507.1 1320.3,511.9 1321.7,516.8 1323.0,521.6 1324.5,526.3 1325.9,531.1 1327.4,535.9 1328.9,540.7 1330.4,545.4 1331.8,550.2 1333.2,555.0 1334.6,559.8 1336.0,564.6 1337.4,569.4 1338.8,574.2 1340.2,579.0 1341.8,583.7 1343.3,588.5 1344.9,593.2 1346.5,597.9 1348.2,602.7 1349.8,607.4 1351.4,612.1 1353.1,616.8 1354.7,621.5 1356.4,626.3 1358.0,631.0 1359.6,635.7 1361.1,640.5 1362.5,645.3 1363.7,650.1 1364.9,655.0 1366.2,659.8 1367.5,664.6 1368.9,669.4 1370.3,674.2 1371.8,679.0 1373.2,683.7 1374.8,688.5 1376.5,693.2 1378.3,697.8 1380.0,702.5 1381.6,707.2 1383.2,712.0 1384.7,716.7 1386.4,721.4 1388.1,726.1 1389.9,730.8 1391.5,735.5 1393.1,740.2 1394.7,744.9 1396.5,749.6 1398.5,754.2 1400.3,758.8 1401.9,763.5 1403.3,768.2 1404.9,772.9 1407.0,777.3 1409.7,781.4 1412.7,785.1 1415.3,789.0 1417.1,793.3 1418.5,797.8 1420.4,802.1 1423.0,806.0 1426.5,809.3 1430.5,812.2 1432.1,807.7 1432.8,803.2 1432.1,798.7 1430.5,794.2 1429.0,789.6 1428.0,784.8 1427.7,779.9 1427.6,774.9 1427.6,769.9 1427.4,764.9 1427.0,760.0 1426.0,755.2 1424.2,750.7 1421.6,746.6 1418.9,742.5 1416.3,738.3 1414.3,733.9 1412.7,729.2 1411.3,724.4 1410.1,719.5 1408.8,714.7 1407.5,709.8 1406.3,705.0 1405.3,700.1 1404.4,695.2 1403.5,690.3 1402.5,685.4 1401.6,680.4 1400.9,675.5 1400.2,670.6 1399.3,665.7 1397.9,661.1 1395.8,656.6 1393.5,652.2 1391.3,647.7 1389.3,643.2 1387.5,638.5 1385.7,633.8 1384.1,629.1 1382.4,624.4 1380.8,619.6 1379.1,614.9 1377.4,610.2 1375.7,605.5 1374.0,600.8 1372.4,596.0 1370.8,591.3 1369.3,586.5 1367.9,581.7 1366.6,576.9 1365.4,572.0 1364.3,567.1 1363.1,562.2 1361.9,557.4 1360.5,552.6 1359.0,547.8 1357.5,543.0 1355.9,538.3 1354.4,533.5 1352.8,528.7 1351.3,524.0 1349.7,519.2 1348.1,514.5 1346.6,509.7 1345.0,504.9 1343.4,500.2 1341.8,495.4 1340.2,490.7 1338.7,486.0 1337.4,481.1 1336.6,476.2 1336.0,471.3 1335.3,466.4 1334.2,461.7 1332.4,457.3 1330.3,453.2 1328.5,448.8 1327.4,444.2 1327.0,439.3 1326.7,434.3 1328.2,439.1 1329.7,443.9 1331.2,448.7 1332.7,453.4 1334.3,458.2 1336.0,462.9 1337.7,467.6 1339.5,472.3 1341.3,477.0 1343.2,481.6 1345.0,486.3 1346.9,490.9 1348.7,495.6 1350.6,500.2 1352.5,504.9 1354.3,509.6 1356.0,514.3 1357.6,519.0 1359.2,523.8 1360.6,528.6 1362.1,533.4 1363.5,538.2 1365.1,542.9 1366.7,547.6 1368.5,552.3 1370.3,557.0 1372.0,561.7 1373.6,566.5 1375.2,571.2 1376.7,576.0 1378.3,580.8 1379.7,585.5 1381.2,590.3 1382.7,595.1 1384.3,599.9 1385.9,604.6 1387.6,609.3 1389.3,614.0 1391.1,618.7 1392.9,623.4 1394.7,628.1 1396.6,632.7 1398.4,637.4 1400.2,642.1 1401.7,646.8 1403.0,651.6 1404.1,656.5 1405.2,661.3 1406.7,666.0 1408.6,670.6 1410.8,675.1 1413.0,679.6 1415.2,684.1 1417.3,688.6 1419.7,693.0 1422.1,697.4 1424.4,701.8 1426.4,706.3 1427.9,711.0 1429.1,715.8 1430.4,720.6 1431.9,725.3 1433.5,730.0 1434.9,734.8 1436.2,739.7 1437.3,744.6 1438.3,749.5 1439.3,754.4 1440.4,759.3 1441.6,764.1 1443.0,768.9 1444.6,773.7 1446.3,778.4 1448.1,783.1 1449.8,787.7 1451.7,792.4 1453.5,797.1 1455.3,801.7 1457.1,806.4 1458.8,811.1 1460.4,815.9 1461.9,820.7 1463.3,825.5 1464.8,830.3 1466.2,835.1 1467.4,839.9 1468.7,844.7 1470.2,849.3 1472.5,853.5 1475.3,857.3 1478.3,861.1 1480.7,865.2 1482.3,869.8 1483.6,874.5 1485.0,879.3 1486.7,884.0 1488.7,888.5 1491.2,892.6 1494.4,896.3 1498.1,899.5 1502.1,902.2 1506.3,904.0 1510.7,904.5 1515.1,903.4 1519.5,901.4 1523.9,899.4 1528.1,898.2 1531.8,898.8 1534.5,901.3 1536.6,905.2 1538.7,909.6 1541.3,913.7 1544.5,917.1 1548.2,919.8 1551.9,922.6 1555.4,925.7 1558.7,929.2 1561.5,933.1 1563.5,937.3 1564.6,942.0 1565.3,946.8 1566.4,951.6 1568.0,956.3 1570.3,960.5 1573.2,964.3 1576.2,968.0 1578.6,971.8 1580.2,976.2 1581.4,980.9 1582.8,985.7 1584.6,990.3 1586.6,994.9 1588.9,999.3 1591.6,1003.5 1594.3,1007.7 1596.9,1011.9 1599.3,1016.3 1601.5,1020.8 1603.3,1025.4 1605.1,1030.1 1606.8,1034.8 1608.5,1039.5 1610.4,1044.2 1612.5,1048.7 1614.9,1053.1 1617.6,1057.2 1620.6,1061.2 1623.6,1065.2 1626.2,1069.3 1628.1,1073.8 1629.4,1078.5 1630.5,1083.4 1631.8,1088.2 1633.4,1092.9 1635.1,1097.6 1636.9,1102.3 1638.7,1107.0 1640.6,1111.6 1642.6,1116.2 1644.7,1120.8 1646.9,1125.3 1649.1,1129.8 1651.4,1134.2 1653.9,1138.5 1656.6,1142.7 1659.3,1146.7 1661.5,1151.0 1663.0,1155.5 1664.2,1160.2 1665.7,1164.9 1667.5,1169.6 1669.4,1174.2 1671.4,1178.8 1673.4,1183.4 1675.5,1188.0 1677.7,1192.5 1680.1,1196.8 1682.8,1201.0 1685.5,1205.2 1688.3,1209.1 1691.4,1212.6 1694.8,1215.8 1697.6,1219.2 1699.4,1223.2 1700.5,1227.8 1701.6,1232.5 1703.3,1237.1 1705.6,1241.4 1708.5,1245.4 1711.8,1249.0 1715.4,1252.5 1719.1,1255.9" fill="none" stroke="#2a26ff" stroke-width="6.6" stroke-linejoin="round" stroke-linecap="butt"/>
<g stroke="#000" stroke-width="2.4"><line x1="360.6" y1="1715.6" x2="360.6" y2="1690.6"/><line x1="451.7" y1="1715.6" x2="451.7" y2="1690.6"/><line x1="542.7" y1="1715.6" x2="542.7" y2="1690.6"/><line x1="633.8" y1="1715.6" x2="633.8" y2="1690.6"/><line x1="815.9" y1="1715.6" x2="815.9" y2="1690.6"/><line x1="906.9" y1="1715.6" x2="906.9" y2="1690.6"/><line x1="998.0" y1="1715.6" x2="998.0" y2="1690.6"/><line x1="1089.0" y1="1715.6" x2="1089.0" y2="1690.6"/><line x1="1271.1" y1="1715.6" x2="1271.1" y2="1690.6"/><line x1="1362.1" y1="1715.6" x2="1362.1" y2="1690.6"/><line x1="1453.2" y1="1715.6" x2="1453.2" y2="1690.6"/><line x1="1544.2" y1="1715.6" x2="1544.2" y2="1690.6"/><line x1="1726.3" y1="1715.6" x2="1726.3" y2="1690.6"/><line x1="1817.4" y1="1715.6" x2="1817.4" y2="1690.6"/><line x1="1908.4" y1="1715.6" x2="1908.4" y2="1690.6"/><line x1="1999.5" y1="1715.6" x2="1999.5" y2="1690.6"/><line x1="269.6" y1="1614.1" x2="294.6" y2="1614.1"/><line x1="269.6" y1="1509.4" x2="294.6" y2="1509.4"/><line x1="269.6" y1="1405.3" x2="294.6" y2="1405.3"/><line x1="269.6" y1="1197.5" x2="294.6" y2="1197.5"/><line x1="269.6" y1="1092.4" x2="294.6" y2="1092.4"/><line x1="269.6" y1="989.3" x2="294.6" y2="989.3"/><line x1="269.6" y1="781.8" x2="294.6" y2="781.8"/><line x1="269.6" y1="678.4" x2="294.6" y2="678.4"/><line x1="269.6" y1="573.4" x2="294.6" y2="573.4"/><line x1="269.6" y1="365.1" x2="294.6" y2="365.1"/><line x1="269.6" y1="262.4" x2="294.6" y2="262.4"/><line x1="269.6" y1="157.0" x2="294.6" y2="157.0"/></g>
<g stroke="#000" stroke-width="10"><line x1="725.3" y1="1715.6" x2="725.3" y2="1673.6"/><line x1="1178.9" y1="1715.6" x2="1178.9" y2="1673.6"/><line x1="1634.9" y1="1715.6" x2="1634.9" y2="1673.6"/><line x1="269.6" y1="469.2" x2="311.6" y2="469.2"/><line x1="269.6" y1="883.2" x2="311.6" y2="883.2"/><line x1="269.6" y1="1299.2" x2="311.6" y2="1299.2"/></g>
<g stroke="#000" stroke-width="10" fill="none"><line x1="269.7" y1="52.8" x2="2090.5" y2="52.8"/><line x1="269.6" y1="55.7" x2="269.6" y2="1718"/><line x1="2090.6" y1="52.8" x2="2090.6" y2="1717.8"/><line x1="269.2" y1="1715.5" x2="2092.8" y2="1715.5"/></g>
<text class="tl" x="245.5" y="74.1" text-anchor="end">0.04</text>
<text class="tl" x="245.5" y="490.5" text-anchor="end">0.02</text>
<text class="tl" x="245.5" y="904.5" text-anchor="end">0</text>
<text class="tl" x="245.5" y="1320.5" text-anchor="end">-0.02</text>
<text class="tl" x="245.5" y="1736.9" text-anchor="end">-0.04</text>
<text class="tl" x="251.5" y="1781.6" text-anchor="start">0</text>
<text class="tl" x="662.1" y="1781.6" text-anchor="start">0.05</text>
<text x="1134.9 1171.0 1191.5" class="tl" y="1781.6">0.1</text>
<rect x="1194.0" y="1775.9" width="13.4" height="7.5" fill="#fff"/><rect x="1214.0" y="1775.9" width="13" height="7.5" fill="#fff"/>
<text x="1572.0 1608.1 1628.6 1662.4" class="tl" y="1781.6">0.15</text>
<rect x="1631.1" y="1775.9" width="13.4" height="7.5" fill="#fff"/><rect x="1651.1" y="1775.9" width="13" height="7.5" fill="#fff"/>
<text class="tl" x="2045.3" y="1781.6" text-anchor="start">0.2</text>
<text class="ttl" style="font-size:77px" x="1182" y="1855.3" text-anchor="middle">Z [m]</text>
<text class="ttl" transform="translate(75.9 884.4) rotate(-90)" text-anchor="middle">Y [m]</text>
<line x1="1227.9" y1="122.9" x2="1519.6" y2="122.9" stroke="#f40000" stroke-width="7.3"/>
<line x1="1227.9" y1="186.6" x2="1519.6" y2="186.6" stroke="#00d000" stroke-width="7.3"/>
<line x1="1227.9" y1="252.6" x2="1519.6" y2="252.6" stroke="#2a26ff" stroke-width="7.3"/>
<text x="1568.0 1629.4 1655.9 1693.2 1734.1 1747.4 1781.8 1819.9 1857.9 1874.2 1908.7 1930.5 1969.0 2007.5" class="lg" y="141.2">Wrap angle 280</text>
<text x="1568.0 1629.4 1655.9 1693.2 1734.1 1747.4 1781.8 1819.9 1857.9 1874.2 1908.7 1930.5 1969.0 2007.5" class="lg" y="207.2">Wrap angle 290</text>
<text x="1568.0 1629.4 1655.9 1693.2 1734.1 1747.4 1781.8 1819.9 1857.9 1874.2 1908.7 1930.5 1969.0 2007.5" class="lg" y="271.2">Wrap angle 300</text>
</svg></body></html>
